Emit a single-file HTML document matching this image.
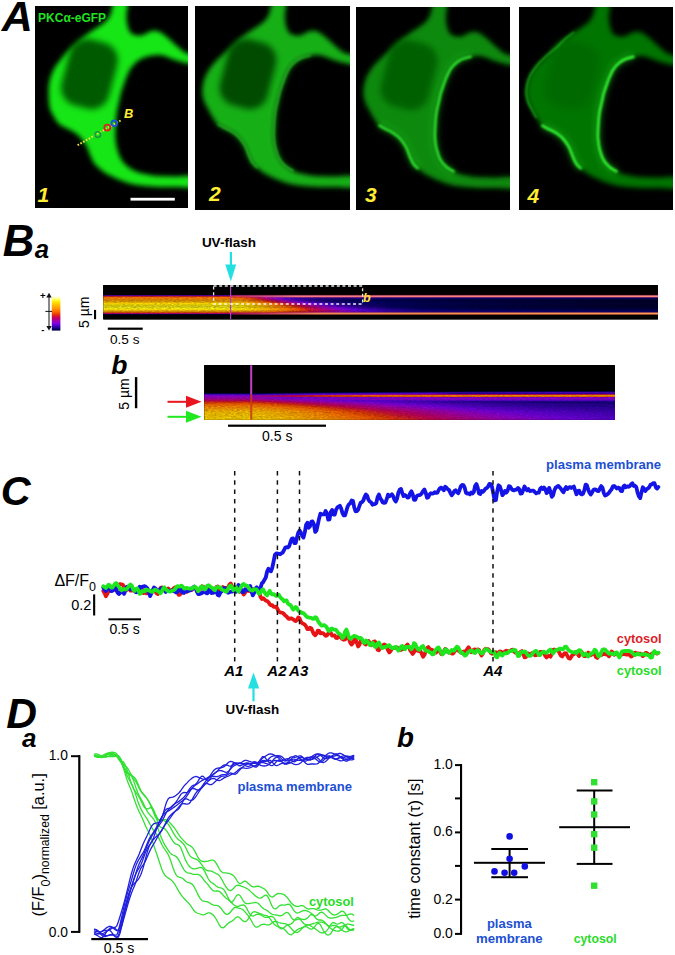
<!DOCTYPE html><html><head><meta charset="utf-8"><style>html,body{margin:0;padding:0;background:#fff;}svg{display:block;font-family:"Liberation Sans",sans-serif;}</style></head><body><svg width="675" height="955" viewBox="0 0 675 955"><rect width="675" height="955" fill="#fff"/><defs>
<filter id="cb" x="-10%" y="-10%" width="120%" height="120%"><feGaussianBlur stdDeviation="2.4"/></filter>
<filter id="nb" x="-20%" y="-20%" width="140%" height="140%"><feGaussianBlur stdDeviation="3"/></filter>
<filter id="mb" x="-10%" y="-10%" width="120%" height="120%"><feGaussianBlur stdDeviation="1.0"/></filter>
<clipPath id="pc0"><rect x="35" y="6" width="153" height="202"/></clipPath>
<clipPath id="pc1"><rect x="195" y="6" width="155" height="204"/></clipPath>
<clipPath id="pc2"><rect x="356" y="7" width="154" height="203"/></clipPath>
<clipPath id="pc3"><rect x="519" y="7" width="154" height="203"/></clipPath>
</defs>
<rect x="35" y="6" width="153" height="202" fill="#000"/>
<g clip-path="url(#pc0)"><g transform="translate(35,6)">
<path d="M79.0,-3.0 C81.5,-4.0 89.9,-4.8 92.0,-3.0 C94.1,-1.2 91.5,4.7 91.5,8.0 C91.5,11.3 91.4,14.0 92.0,17.0 C92.6,20.0 93.7,24.0 95.0,26.0 C96.3,28.0 98.2,28.4 100.0,29.0 C101.8,29.6 104.0,29.9 106.0,29.6 C108.0,29.3 110.2,27.8 112.0,27.0 C113.8,26.2 115.0,25.2 117.0,25.0 C119.0,24.8 121.3,24.3 124.0,25.5 C126.7,26.7 129.8,29.4 133.0,32.0 C136.2,34.6 140.0,38.5 143.0,41.0 C146.0,43.5 147.8,45.5 151.0,47.0 C154.2,48.5 160.2,48.2 162.0,50.0 C163.8,51.8 163.5,56.8 162.0,58.0 C160.5,59.2 156.7,58.2 153.0,57.5 C149.3,56.8 144.2,55.3 140.0,54.0 C135.8,52.7 131.4,50.2 127.6,49.5 C123.8,48.8 120.3,49.1 117.0,49.5 C113.7,49.9 110.6,50.9 108.0,52.0 C105.4,53.1 103.5,54.3 101.5,56.0 C99.5,57.7 97.6,59.7 96.0,62.0 C94.4,64.3 93.2,67.3 92.0,70.0 C90.8,72.7 90.0,75.2 89.0,78.0 C88.0,80.8 86.8,84.0 86.0,87.0 C85.2,90.0 84.7,93.0 84.0,96.0 C83.3,99.0 82.5,102.0 82.0,105.0 C81.5,108.0 81.2,111.0 81.0,114.0 C80.8,117.0 80.6,120.0 80.5,123.0 C80.4,126.0 80.2,128.8 80.5,132.0 C80.8,135.2 81.1,138.5 82.0,142.0 C82.9,145.5 84.3,150.0 86.0,153.0 C87.7,156.0 89.7,158.0 92.0,160.0 C94.3,162.0 97.0,163.7 100.0,165.0 C103.0,166.3 106.2,167.2 110.0,168.0 C113.8,168.8 117.7,169.6 123.0,170.0 C128.3,170.4 135.5,170.4 142.0,170.5 C148.5,170.6 158.7,168.8 162.0,170.5 C165.3,172.2 165.3,179.2 162.0,181.0 C158.7,182.8 148.2,181.0 142.0,181.0 C135.8,181.0 130.3,181.2 125.0,181.0 C119.7,180.8 114.7,180.5 110.0,180.0 C105.3,179.5 101.2,179.0 97.0,178.0 C92.8,177.0 89.2,175.7 85.0,174.0 C80.8,172.3 75.5,170.0 72.0,168.0 C68.5,166.0 66.2,163.8 64.0,162.0 C61.8,160.2 60.4,159.0 59.0,157.0 C57.6,155.0 56.8,152.8 55.5,150.0 C54.2,147.2 53.2,143.2 51.5,140.0 C49.8,136.8 47.2,133.4 45.0,131.0 C42.8,128.6 40.3,127.0 38.0,125.5 C35.7,124.0 33.3,123.2 31.0,122.0 C28.7,120.8 26.0,119.8 24.0,118.0 C22.0,116.2 20.5,113.5 19.0,111.0 C17.5,108.5 15.9,105.8 15.0,103.0 C14.1,100.2 14.0,96.8 13.8,94.0 C13.6,91.2 13.6,88.7 13.6,86.0 C13.6,83.3 13.6,80.7 14.0,78.0 C14.4,75.3 15.1,72.7 16.0,70.0 C16.9,67.3 18.0,64.6 19.5,62.0 C21.0,59.4 22.9,57.2 25.0,54.5 C27.1,51.8 29.4,48.7 32.0,46.0 C34.6,43.3 38.1,40.9 40.8,38.5 C43.5,36.1 45.4,33.8 48.0,31.5 C50.6,29.2 53.7,27.1 56.7,25.0 C59.7,22.9 63.5,20.8 66.0,19.0 C68.5,17.2 70.4,15.8 72.0,14.0 C73.6,12.2 74.7,9.8 75.5,8.0 C76.3,6.2 76.4,4.8 77.0,3.0 C77.6,1.2 76.5,-2.0 79.0,-3.0 Z" fill="#12e612" filter="url(#cb)"/>
<rect x="30" y="34" width="49" height="68" rx="18" transform="rotate(15 54.5 68)" fill="#005a00" filter="url(#nb)"/>
</g></g>
<rect x="195" y="6" width="155" height="204" fill="#000"/>
<g clip-path="url(#pc1)"><g transform="translate(193.5,6)">
<path d="M79.0,-3.0 C81.5,-4.0 89.9,-4.8 92.0,-3.0 C94.1,-1.2 91.5,4.7 91.5,8.0 C91.5,11.3 91.4,14.0 92.0,17.0 C92.6,20.0 93.7,24.0 95.0,26.0 C96.3,28.0 98.2,28.4 100.0,29.0 C101.8,29.6 104.0,29.9 106.0,29.6 C108.0,29.3 110.2,27.8 112.0,27.0 C113.8,26.2 115.0,25.2 117.0,25.0 C119.0,24.8 121.3,24.3 124.0,25.5 C126.7,26.7 129.8,29.4 133.0,32.0 C136.2,34.6 140.0,38.5 143.0,41.0 C146.0,43.5 147.8,45.5 151.0,47.0 C154.2,48.5 160.2,48.2 162.0,50.0 C163.8,51.8 163.5,56.8 162.0,58.0 C160.5,59.2 156.7,58.2 153.0,57.5 C149.3,56.8 144.2,55.3 140.0,54.0 C135.8,52.7 131.4,50.2 127.6,49.5 C123.8,48.8 120.3,49.1 117.0,49.5 C113.7,49.9 110.6,50.9 108.0,52.0 C105.4,53.1 103.5,54.3 101.5,56.0 C99.5,57.7 97.6,59.7 96.0,62.0 C94.4,64.3 93.2,67.3 92.0,70.0 C90.8,72.7 90.0,75.2 89.0,78.0 C88.0,80.8 86.8,84.0 86.0,87.0 C85.2,90.0 84.7,93.0 84.0,96.0 C83.3,99.0 82.5,102.0 82.0,105.0 C81.5,108.0 81.2,111.0 81.0,114.0 C80.8,117.0 80.6,120.0 80.5,123.0 C80.4,126.0 80.2,128.8 80.5,132.0 C80.8,135.2 81.1,138.5 82.0,142.0 C82.9,145.5 84.3,150.0 86.0,153.0 C87.7,156.0 89.7,158.0 92.0,160.0 C94.3,162.0 97.0,163.7 100.0,165.0 C103.0,166.3 106.2,167.2 110.0,168.0 C113.8,168.8 117.7,169.6 123.0,170.0 C128.3,170.4 135.5,170.4 142.0,170.5 C148.5,170.6 158.7,168.8 162.0,170.5 C165.3,172.2 165.3,179.2 162.0,181.0 C158.7,182.8 148.2,181.0 142.0,181.0 C135.8,181.0 130.3,181.2 125.0,181.0 C119.7,180.8 114.7,180.5 110.0,180.0 C105.3,179.5 101.2,179.0 97.0,178.0 C92.8,177.0 89.2,175.7 85.0,174.0 C80.8,172.3 75.5,170.0 72.0,168.0 C68.5,166.0 66.2,163.8 64.0,162.0 C61.8,160.2 60.4,159.0 59.0,157.0 C57.6,155.0 56.8,152.8 55.5,150.0 C54.2,147.2 53.2,143.2 51.5,140.0 C49.8,136.8 47.2,133.4 45.0,131.0 C42.8,128.6 40.3,127.0 38.0,125.5 C35.7,124.0 33.3,123.2 31.0,122.0 C28.7,120.8 26.0,119.8 24.0,118.0 C22.0,116.2 20.6,113.5 19.0,111.0 C17.4,108.5 15.9,105.7 14.5,103.0 C13.1,100.3 11.4,97.7 10.5,95.0 C9.6,92.3 9.0,89.7 8.8,87.0 C8.6,84.3 8.9,81.7 9.3,79.0 C9.8,76.3 10.4,73.7 11.5,71.0 C12.6,68.3 14.2,65.6 16.0,63.0 C17.8,60.4 19.5,58.2 22.0,55.5 C24.5,52.8 27.9,49.8 31.0,47.0 C34.1,44.2 37.7,41.6 40.5,39.0 C43.3,36.4 45.3,33.8 48.0,31.5 C50.7,29.2 53.7,27.1 56.7,25.0 C59.7,22.9 63.5,20.8 66.0,19.0 C68.5,17.2 70.4,15.8 72.0,14.0 C73.6,12.2 74.7,9.8 75.5,8.0 C76.3,6.2 76.4,4.8 77.0,3.0 C77.6,1.2 76.5,-2.0 79.0,-3.0 Z" fill="#14b014" filter="url(#cb)"/>
<rect x="30" y="34" width="49" height="68" rx="18" transform="rotate(15 54.5 68)" fill="#004c00" filter="url(#nb)"/>
<g fill="none" stroke="#30e030" stroke-width="5.2" opacity="0.18" filter="url(#nb)">
<path d="M117.0,49.5 C115.5,49.9 110.6,50.9 108.0,52.0 C105.4,53.1 103.5,54.3 101.5,56.0 C99.5,57.7 97.6,59.7 96.0,62.0 C94.4,64.3 93.2,67.3 92.0,70.0 C90.8,72.7 90.0,75.2 89.0,78.0 C88.0,80.8 86.8,84.0 86.0,87.0 C85.2,90.0 84.7,93.0 84.0,96.0 C83.3,99.0 82.5,102.0 82.0,105.0 C81.5,108.0 81.2,111.0 81.0,114.0 C80.8,117.0 80.6,120.0 80.5,123.0 C80.4,126.0 80.2,128.8 80.5,132.0 C80.8,135.2 81.1,138.5 82.0,142.0 C82.9,145.5 84.3,150.0 86.0,153.0 C87.7,156.0 89.7,158.0 92.0,160.0 C94.3,162.0 98.7,164.2 100.0,165.0"/><path d="M64.0,162.0 C63.2,161.2 60.4,159.0 59.0,157.0 C57.6,155.0 56.8,152.8 55.5,150.0 C54.2,147.2 53.2,143.2 51.5,140.0 C49.8,136.8 47.2,133.4 45.0,131.0 C42.8,128.6 40.3,127.0 38.0,125.5 C35.7,124.0 33.3,123.2 31.0,122.0 C28.7,120.8 25.2,118.7 24.0,118.0"/>
</g>
<g fill="none" stroke="#30e030" stroke-width="2.0" opacity="0.6" filter="url(#mb)">
<path d="M117.0,49.5 C115.5,49.9 110.6,50.9 108.0,52.0 C105.4,53.1 103.5,54.3 101.5,56.0 C99.5,57.7 97.6,59.7 96.0,62.0 C94.4,64.3 93.2,67.3 92.0,70.0 C90.8,72.7 90.0,75.2 89.0,78.0 C88.0,80.8 86.8,84.0 86.0,87.0 C85.2,90.0 84.7,93.0 84.0,96.0 C83.3,99.0 82.5,102.0 82.0,105.0 C81.5,108.0 81.2,111.0 81.0,114.0 C80.8,117.0 80.6,120.0 80.5,123.0 C80.4,126.0 80.2,128.8 80.5,132.0 C80.8,135.2 81.1,138.5 82.0,142.0 C82.9,145.5 84.3,150.0 86.0,153.0 C87.7,156.0 89.7,158.0 92.0,160.0 C94.3,162.0 98.7,164.2 100.0,165.0"/><path d="M64.0,162.0 C63.2,161.2 60.4,159.0 59.0,157.0 C57.6,155.0 56.8,152.8 55.5,150.0 C54.2,147.2 53.2,143.2 51.5,140.0 C49.8,136.8 47.2,133.4 45.0,131.0 C42.8,128.6 40.3,127.0 38.0,125.5 C35.7,124.0 33.3,123.2 31.0,122.0 C28.7,120.8 25.2,118.7 24.0,118.0"/>
</g>
</g></g>
<rect x="356" y="7" width="154" height="203" fill="#000"/>
<g clip-path="url(#pc2)"><g transform="translate(354.5,7)">
<path d="M79.0,-3.0 C81.5,-4.0 89.9,-4.8 92.0,-3.0 C94.1,-1.2 91.5,4.7 91.5,8.0 C91.5,11.3 91.4,14.0 92.0,17.0 C92.6,20.0 93.7,24.0 95.0,26.0 C96.3,28.0 98.2,28.4 100.0,29.0 C101.8,29.6 104.0,29.9 106.0,29.6 C108.0,29.3 110.2,27.8 112.0,27.0 C113.8,26.2 115.0,25.2 117.0,25.0 C119.0,24.8 121.3,24.3 124.0,25.5 C126.7,26.7 129.8,29.4 133.0,32.0 C136.2,34.6 140.0,38.5 143.0,41.0 C146.0,43.5 147.8,45.5 151.0,47.0 C154.2,48.5 160.2,48.2 162.0,50.0 C163.8,51.8 163.5,56.8 162.0,58.0 C160.5,59.2 156.7,58.2 153.0,57.5 C149.3,56.8 144.2,55.3 140.0,54.0 C135.8,52.7 131.4,50.2 127.6,49.5 C123.8,48.8 120.3,49.1 117.0,49.5 C113.7,49.9 110.6,50.9 108.0,52.0 C105.4,53.1 103.5,54.3 101.5,56.0 C99.5,57.7 97.6,59.7 96.0,62.0 C94.4,64.3 93.2,67.3 92.0,70.0 C90.8,72.7 90.0,75.2 89.0,78.0 C88.0,80.8 86.8,84.0 86.0,87.0 C85.2,90.0 84.7,93.0 84.0,96.0 C83.3,99.0 82.5,102.0 82.0,105.0 C81.5,108.0 81.2,111.0 81.0,114.0 C80.8,117.0 80.6,120.0 80.5,123.0 C80.4,126.0 80.2,128.8 80.5,132.0 C80.8,135.2 81.1,138.5 82.0,142.0 C82.9,145.5 84.3,150.0 86.0,153.0 C87.7,156.0 89.7,158.0 92.0,160.0 C94.3,162.0 97.0,163.7 100.0,165.0 C103.0,166.3 106.2,167.2 110.0,168.0 C113.8,168.8 117.7,169.6 123.0,170.0 C128.3,170.4 135.5,170.4 142.0,170.5 C148.5,170.6 158.7,168.8 162.0,170.5 C165.3,172.2 165.3,179.2 162.0,181.0 C158.7,182.8 148.2,181.0 142.0,181.0 C135.8,181.0 130.3,181.2 125.0,181.0 C119.7,180.8 114.7,180.5 110.0,180.0 C105.3,179.5 101.2,179.0 97.0,178.0 C92.8,177.0 89.2,175.7 85.0,174.0 C80.8,172.3 75.5,170.0 72.0,168.0 C68.5,166.0 66.2,163.8 64.0,162.0 C61.8,160.2 60.4,159.0 59.0,157.0 C57.6,155.0 56.8,152.8 55.5,150.0 C54.2,147.2 53.2,143.2 51.5,140.0 C49.8,136.8 47.2,133.4 45.0,131.0 C42.8,128.6 40.3,127.0 38.0,125.5 C35.7,124.0 33.3,123.2 31.0,122.0 C28.7,120.8 26.0,119.8 24.0,118.0 C22.0,116.2 20.6,113.5 19.0,111.0 C17.4,108.5 15.9,105.7 14.5,103.0 C13.1,100.3 11.4,97.7 10.5,95.0 C9.6,92.3 9.0,89.7 8.8,87.0 C8.6,84.3 8.9,81.7 9.3,79.0 C9.8,76.3 10.4,73.7 11.5,71.0 C12.6,68.3 14.2,65.6 16.0,63.0 C17.8,60.4 19.5,58.2 22.0,55.5 C24.5,52.8 27.9,49.8 31.0,47.0 C34.1,44.2 37.7,41.6 40.5,39.0 C43.3,36.4 45.3,33.8 48.0,31.5 C50.7,29.2 53.7,27.1 56.7,25.0 C59.7,22.9 63.5,20.8 66.0,19.0 C68.5,17.2 70.4,15.8 72.0,14.0 C73.6,12.2 74.7,9.8 75.5,8.0 C76.3,6.2 76.4,4.8 77.0,3.0 C77.6,1.2 76.5,-2.0 79.0,-3.0 Z" fill="#0a8a0a" filter="url(#cb)"/>
<rect x="30" y="34" width="49" height="68" rx="18" transform="rotate(15 54.5 68)" fill="#026002" filter="url(#nb)"/>
<g fill="none" stroke="#30f030" stroke-width="6.2" opacity="0.28" filter="url(#nb)">
<path d="M117.0,49.5 C115.5,49.9 110.6,50.9 108.0,52.0 C105.4,53.1 103.5,54.3 101.5,56.0 C99.5,57.7 97.6,59.7 96.0,62.0 C94.4,64.3 93.2,67.3 92.0,70.0 C90.8,72.7 90.0,75.2 89.0,78.0 C88.0,80.8 86.8,84.0 86.0,87.0 C85.2,90.0 84.7,93.0 84.0,96.0 C83.3,99.0 82.5,102.0 82.0,105.0 C81.5,108.0 81.2,111.0 81.0,114.0 C80.8,117.0 80.6,120.0 80.5,123.0 C80.4,126.0 80.2,128.8 80.5,132.0 C80.8,135.2 81.1,138.5 82.0,142.0 C82.9,145.5 84.3,150.0 86.0,153.0 C87.7,156.0 89.7,158.0 92.0,160.0 C94.3,162.0 98.7,164.2 100.0,165.0"/><path d="M64.0,162.0 C63.2,161.2 60.4,159.0 59.0,157.0 C57.6,155.0 56.8,152.8 55.5,150.0 C54.2,147.2 53.2,143.2 51.5,140.0 C49.8,136.8 47.2,133.4 45.0,131.0 C42.8,128.6 40.3,127.0 38.0,125.5 C35.7,124.0 33.3,123.2 31.0,122.0 C28.7,120.8 25.2,118.7 24.0,118.0"/>
</g>
<g fill="none" stroke="#30f030" stroke-width="2.4" opacity="0.95" filter="url(#mb)">
<path d="M117.0,49.5 C115.5,49.9 110.6,50.9 108.0,52.0 C105.4,53.1 103.5,54.3 101.5,56.0 C99.5,57.7 97.6,59.7 96.0,62.0 C94.4,64.3 93.2,67.3 92.0,70.0 C90.8,72.7 90.0,75.2 89.0,78.0 C88.0,80.8 86.8,84.0 86.0,87.0 C85.2,90.0 84.7,93.0 84.0,96.0 C83.3,99.0 82.5,102.0 82.0,105.0 C81.5,108.0 81.2,111.0 81.0,114.0 C80.8,117.0 80.6,120.0 80.5,123.0 C80.4,126.0 80.2,128.8 80.5,132.0 C80.8,135.2 81.1,138.5 82.0,142.0 C82.9,145.5 84.3,150.0 86.0,153.0 C87.7,156.0 89.7,158.0 92.0,160.0 C94.3,162.0 98.7,164.2 100.0,165.0"/><path d="M64.0,162.0 C63.2,161.2 60.4,159.0 59.0,157.0 C57.6,155.0 56.8,152.8 55.5,150.0 C54.2,147.2 53.2,143.2 51.5,140.0 C49.8,136.8 47.2,133.4 45.0,131.0 C42.8,128.6 40.3,127.0 38.0,125.5 C35.7,124.0 33.3,123.2 31.0,122.0 C28.7,120.8 25.2,118.7 24.0,118.0"/>
</g>
</g></g>
<rect x="519" y="7" width="154" height="203" fill="#000"/>
<g clip-path="url(#pc3)"><g transform="translate(517.5,7)">
<path d="M79.0,-3.0 C81.5,-4.0 89.9,-4.8 92.0,-3.0 C94.1,-1.2 91.5,4.7 91.5,8.0 C91.5,11.3 91.4,14.0 92.0,17.0 C92.6,20.0 93.7,24.0 95.0,26.0 C96.3,28.0 98.2,28.4 100.0,29.0 C101.8,29.6 104.0,29.9 106.0,29.6 C108.0,29.3 110.2,27.8 112.0,27.0 C113.8,26.2 115.0,25.2 117.0,25.0 C119.0,24.8 121.3,24.3 124.0,25.5 C126.7,26.7 129.8,29.4 133.0,32.0 C136.2,34.6 140.0,38.5 143.0,41.0 C146.0,43.5 147.8,45.5 151.0,47.0 C154.2,48.5 160.2,48.2 162.0,50.0 C163.8,51.8 163.5,56.8 162.0,58.0 C160.5,59.2 156.7,58.2 153.0,57.5 C149.3,56.8 144.2,55.3 140.0,54.0 C135.8,52.7 131.4,50.2 127.6,49.5 C123.8,48.8 120.3,49.1 117.0,49.5 C113.7,49.9 110.6,50.9 108.0,52.0 C105.4,53.1 103.5,54.3 101.5,56.0 C99.5,57.7 97.6,59.7 96.0,62.0 C94.4,64.3 93.2,67.3 92.0,70.0 C90.8,72.7 90.0,75.2 89.0,78.0 C88.0,80.8 86.8,84.0 86.0,87.0 C85.2,90.0 84.7,93.0 84.0,96.0 C83.3,99.0 82.5,102.0 82.0,105.0 C81.5,108.0 81.2,111.0 81.0,114.0 C80.8,117.0 80.6,120.0 80.5,123.0 C80.4,126.0 80.2,128.8 80.5,132.0 C80.8,135.2 81.1,138.5 82.0,142.0 C82.9,145.5 84.3,150.0 86.0,153.0 C87.7,156.0 89.7,158.0 92.0,160.0 C94.3,162.0 97.0,163.7 100.0,165.0 C103.0,166.3 106.2,167.2 110.0,168.0 C113.8,168.8 117.7,169.6 123.0,170.0 C128.3,170.4 135.5,170.4 142.0,170.5 C148.5,170.6 158.7,168.8 162.0,170.5 C165.3,172.2 165.3,179.2 162.0,181.0 C158.7,182.8 148.2,181.0 142.0,181.0 C135.8,181.0 130.3,181.2 125.0,181.0 C119.7,180.8 114.7,180.5 110.0,180.0 C105.3,179.5 101.2,179.0 97.0,178.0 C92.8,177.0 89.2,175.7 85.0,174.0 C80.8,172.3 75.5,170.0 72.0,168.0 C68.5,166.0 66.2,163.8 64.0,162.0 C61.8,160.2 60.4,159.0 59.0,157.0 C57.6,155.0 56.8,152.8 55.5,150.0 C54.2,147.2 53.2,143.2 51.5,140.0 C49.8,136.8 47.2,133.4 45.0,131.0 C42.8,128.6 40.3,127.0 38.0,125.5 C35.7,124.0 33.3,123.2 31.0,122.0 C28.7,120.8 26.0,119.8 24.0,118.0 C22.0,116.2 20.6,113.5 19.0,111.0 C17.4,108.5 15.9,105.7 14.5,103.0 C13.1,100.3 11.4,97.7 10.5,95.0 C9.6,92.3 9.0,89.7 8.8,87.0 C8.6,84.3 8.9,81.7 9.3,79.0 C9.8,76.3 10.4,73.7 11.5,71.0 C12.6,68.3 14.2,65.6 16.0,63.0 C17.8,60.4 19.5,58.2 22.0,55.5 C24.5,52.8 27.9,49.8 31.0,47.0 C34.1,44.2 37.7,41.6 40.5,39.0 C43.3,36.4 45.3,33.8 48.0,31.5 C50.7,29.2 53.7,27.1 56.7,25.0 C59.7,22.9 63.5,20.8 66.0,19.0 C68.5,17.2 70.4,15.8 72.0,14.0 C73.6,12.2 74.7,9.8 75.5,8.0 C76.3,6.2 76.4,4.8 77.0,3.0 C77.6,1.2 76.5,-2.0 79.0,-3.0 Z" fill="#067406" filter="url(#cb)"/>
<rect x="30" y="34" width="49" height="68" rx="18" transform="rotate(15 54.5 68)" fill="#066a06" filter="url(#nb)"/>
<g fill="none" stroke="#30f830" stroke-width="6.8" opacity="0.30" filter="url(#nb)">
<path d="M117.0,49.5 C115.5,49.9 110.6,50.9 108.0,52.0 C105.4,53.1 103.5,54.3 101.5,56.0 C99.5,57.7 97.6,59.7 96.0,62.0 C94.4,64.3 93.2,67.3 92.0,70.0 C90.8,72.7 90.0,75.2 89.0,78.0 C88.0,80.8 86.8,84.0 86.0,87.0 C85.2,90.0 84.7,93.0 84.0,96.0 C83.3,99.0 82.5,102.0 82.0,105.0 C81.5,108.0 81.2,111.0 81.0,114.0 C80.8,117.0 80.6,120.0 80.5,123.0 C80.4,126.0 80.2,128.8 80.5,132.0 C80.8,135.2 81.1,138.5 82.0,142.0 C82.9,145.5 84.3,150.0 86.0,153.0 C87.7,156.0 89.7,158.0 92.0,160.0 C94.3,162.0 98.7,164.2 100.0,165.0"/><path d="M64.0,162.0 C63.2,161.2 60.4,159.0 59.0,157.0 C57.6,155.0 56.8,152.8 55.5,150.0 C54.2,147.2 53.2,143.2 51.5,140.0 C49.8,136.8 47.2,133.4 45.0,131.0 C42.8,128.6 40.3,127.0 38.0,125.5 C35.7,124.0 33.3,123.2 31.0,122.0 C28.7,120.8 25.2,118.7 24.0,118.0"/>
</g>
<g fill="none" stroke="#30f830" stroke-width="2.6" opacity="1.0" filter="url(#mb)">
<path d="M117.0,49.5 C115.5,49.9 110.6,50.9 108.0,52.0 C105.4,53.1 103.5,54.3 101.5,56.0 C99.5,57.7 97.6,59.7 96.0,62.0 C94.4,64.3 93.2,67.3 92.0,70.0 C90.8,72.7 90.0,75.2 89.0,78.0 C88.0,80.8 86.8,84.0 86.0,87.0 C85.2,90.0 84.7,93.0 84.0,96.0 C83.3,99.0 82.5,102.0 82.0,105.0 C81.5,108.0 81.2,111.0 81.0,114.0 C80.8,117.0 80.6,120.0 80.5,123.0 C80.4,126.0 80.2,128.8 80.5,132.0 C80.8,135.2 81.1,138.5 82.0,142.0 C82.9,145.5 84.3,150.0 86.0,153.0 C87.7,156.0 89.7,158.0 92.0,160.0 C94.3,162.0 98.7,164.2 100.0,165.0"/><path d="M64.0,162.0 C63.2,161.2 60.4,159.0 59.0,157.0 C57.6,155.0 56.8,152.8 55.5,150.0 C54.2,147.2 53.2,143.2 51.5,140.0 C49.8,136.8 47.2,133.4 45.0,131.0 C42.8,128.6 40.3,127.0 38.0,125.5 C35.7,124.0 33.3,123.2 31.0,122.0 C28.7,120.8 25.2,118.7 24.0,118.0"/>
<path d="M19.0,111.0 C18.2,109.7 15.9,105.7 14.5,103.0 C13.1,100.3 11.4,97.7 10.5,95.0 C9.6,92.3 9.0,89.7 8.8,87.0 C8.6,84.3 8.9,81.7 9.3,79.0 C9.8,76.3 10.4,73.7 11.5,71.0 C12.6,68.3 14.2,65.6 16.0,63.0 C17.8,60.4 19.5,58.2 22.0,55.5 C24.5,52.8 27.9,49.8 31.0,47.0 C34.1,44.2 37.7,41.6 40.5,39.0 C43.3,36.4 45.3,33.8 48.0,31.5 C50.7,29.2 55.2,26.1 56.7,25.0" stroke-width="1.4" opacity="0.7"/>
</g>
</g></g>
<text x="38.12" y="21.50" font-size="12.5" font-weight="bold" fill="#22e022" textLength="68" lengthAdjust="spacingAndGlyphs">PKC&#945;-eGFP</text>
<text x="37.58" y="201.50" font-size="21" font-weight="bold" font-style="italic" fill="#ffee33" >1</text>
<text x="209.11" y="200.80" font-size="21" font-weight="bold" font-style="italic" fill="#ffee33" >2</text>
<text x="364.99" y="202.30" font-size="21" font-weight="bold" font-style="italic" fill="#ffee33" >3</text>
<text x="527.42" y="203.20" font-size="21" font-weight="bold" font-style="italic" fill="#ffee33" >4</text>
<rect x="130.5" y="197.8" width="44.3" height="2.8" fill="#fff"/>
<line x1="77.6" y1="145.2" x2="121.5" y2="120" stroke="#f0e040" stroke-width="2" stroke-dasharray="1.6 1.6"/>
<circle cx="97.8" cy="134.6" r="2.8" fill="none" stroke="#1a9a3a" stroke-width="1.6"/>
<circle cx="107.3" cy="127.6" r="3" fill="none" stroke="#e02020" stroke-width="1.8"/>
<circle cx="114.2" cy="123.2" r="2.8" fill="none" stroke="#2050e0" stroke-width="1.8"/>
<text x="124.04" y="117.60" font-size="12.9" font-weight="bold" font-style="italic" fill="#ffee33" >B</text>
<text x="1.63" y="31.20" font-size="43" font-weight="bold" font-style="italic" >A</text><defs><linearGradient id="ga12" x1="0" x2="1" y1="0" y2="0"><stop offset="0.0000" stop-color="#8000de"/><stop offset="0.2284" stop-color="#8000de"/><stop offset="0.2306" stop-color="#8000df"/><stop offset="0.2468" stop-color="#7600e2"/><stop offset="0.2630" stop-color="#5f00d8"/><stop offset="0.2793" stop-color="#4100b7"/><stop offset="0.2955" stop-color="#270097"/><stop offset="0.3117" stop-color="#15007c"/><stop offset="0.3279" stop-color="#0a006d"/><stop offset="0.3441" stop-color="#040065"/><stop offset="0.3604" stop-color="#010061"/><stop offset="0.3766" stop-color="#01005e"/><stop offset="0.3928" stop-color="#01005c"/><stop offset="0.4090" stop-color="#01005a"/><stop offset="0.4253" stop-color="#010059"/><stop offset="0.4415" stop-color="#010057"/><stop offset="0.4577" stop-color="#010056"/><stop offset="0.4739" stop-color="#010055"/><stop offset="0.5172" stop-color="#010052"/><stop offset="0.5605" stop-color="#010050"/><stop offset="0.6037" stop-color="#00004e"/><stop offset="0.6470" stop-color="#00004c"/><stop offset="0.6903" stop-color="#00004b"/><stop offset="0.7335" stop-color="#00004a"/><stop offset="0.7768" stop-color="#000049"/><stop offset="0.8201" stop-color="#000048"/><stop offset="0.8633" stop-color="#000047"/><stop offset="0.9066" stop-color="#000047"/><stop offset="0.9499" stop-color="#000046"/><stop offset="1.0000" stop-color="#000046"/></linearGradient>
<linearGradient id="ga13" x1="0" x2="1" y1="0" y2="0"><stop offset="0.0000" stop-color="#df2f13"/><stop offset="0.2306" stop-color="#df2f13"/><stop offset="0.2468" stop-color="#d61d2c"/><stop offset="0.2630" stop-color="#c00065"/><stop offset="0.2793" stop-color="#a500ac"/><stop offset="0.2955" stop-color="#7d00e1"/><stop offset="0.3117" stop-color="#5800d1"/><stop offset="0.3279" stop-color="#4200b8"/><stop offset="0.3441" stop-color="#3600ab"/><stop offset="0.3604" stop-color="#3000a3"/><stop offset="0.3766" stop-color="#2c009e"/><stop offset="0.3928" stop-color="#2a009a"/><stop offset="0.4090" stop-color="#270097"/><stop offset="0.4253" stop-color="#250094"/><stop offset="0.4415" stop-color="#230091"/><stop offset="0.4577" stop-color="#22008f"/><stop offset="0.4739" stop-color="#20008c"/><stop offset="0.5172" stop-color="#1c0086"/><stop offset="0.5605" stop-color="#190082"/><stop offset="0.6037" stop-color="#16007e"/><stop offset="0.6470" stop-color="#14007b"/><stop offset="0.6903" stop-color="#120078"/><stop offset="0.7335" stop-color="#100076"/><stop offset="0.7768" stop-color="#0f0074"/><stop offset="0.8201" stop-color="#0e0072"/><stop offset="0.8633" stop-color="#0d0071"/><stop offset="0.9066" stop-color="#0c0070"/><stop offset="0.9499" stop-color="#0c006f"/><stop offset="0.9931" stop-color="#0b006f"/><stop offset="1.0000" stop-color="#0b006e"/></linearGradient>
<linearGradient id="ga14" x1="0" x2="1" y1="0" y2="0"><stop offset="0.0000" stop-color="#fe7000"/><stop offset="0.2306" stop-color="#fe7000"/><stop offset="0.2468" stop-color="#f96000"/><stop offset="0.2630" stop-color="#df2e13"/><stop offset="0.2793" stop-color="#bf0067"/><stop offset="0.2955" stop-color="#a100b6"/><stop offset="0.3117" stop-color="#7700e2"/><stop offset="0.3279" stop-color="#5700cf"/><stop offset="0.3441" stop-color="#4400ba"/><stop offset="0.3604" stop-color="#3a00af"/><stop offset="0.3766" stop-color="#3400a8"/><stop offset="0.3928" stop-color="#3000a4"/><stop offset="0.4090" stop-color="#2d00a0"/><stop offset="0.4253" stop-color="#2b009c"/><stop offset="0.4415" stop-color="#280098"/><stop offset="0.4577" stop-color="#260095"/><stop offset="0.4739" stop-color="#240092"/><stop offset="0.5172" stop-color="#1f008b"/><stop offset="0.5605" stop-color="#1b0086"/><stop offset="0.6037" stop-color="#180081"/><stop offset="0.6470" stop-color="#15007d"/><stop offset="0.6903" stop-color="#13007a"/><stop offset="0.7335" stop-color="#110077"/><stop offset="0.7768" stop-color="#100075"/><stop offset="0.8201" stop-color="#0e0073"/><stop offset="0.8633" stop-color="#0d0071"/><stop offset="0.9066" stop-color="#0c0070"/><stop offset="0.9499" stop-color="#0c006f"/><stop offset="0.9931" stop-color="#0b006e"/><stop offset="1.0000" stop-color="#0b006e"/></linearGradient>
<linearGradient id="ga15" x1="0" x2="1" y1="0" y2="0"><stop offset="0.0000" stop-color="#ff8100"/><stop offset="0.2306" stop-color="#ff8100"/><stop offset="0.2468" stop-color="#ff7400"/><stop offset="0.2630" stop-color="#ee4b01"/><stop offset="0.2793" stop-color="#cf0e41"/><stop offset="0.2955" stop-color="#ae0094"/><stop offset="0.3117" stop-color="#8a00d8"/><stop offset="0.3279" stop-color="#6000da"/><stop offset="0.3441" stop-color="#4400ba"/><stop offset="0.3604" stop-color="#3400a8"/><stop offset="0.3766" stop-color="#2a009b"/><stop offset="0.3928" stop-color="#250093"/><stop offset="0.4090" stop-color="#21008e"/><stop offset="0.4253" stop-color="#1e008a"/><stop offset="0.4415" stop-color="#1c0086"/><stop offset="0.4577" stop-color="#190083"/><stop offset="0.4739" stop-color="#17007f"/><stop offset="0.5172" stop-color="#120078"/><stop offset="0.5605" stop-color="#0e0072"/><stop offset="0.6037" stop-color="#0a006d"/><stop offset="0.6470" stop-color="#080069"/><stop offset="0.6903" stop-color="#050066"/><stop offset="0.7335" stop-color="#030063"/><stop offset="0.7768" stop-color="#010061"/><stop offset="0.8201" stop-color="#01005f"/><stop offset="0.8633" stop-color="#01005d"/><stop offset="0.9066" stop-color="#01005c"/><stop offset="0.9499" stop-color="#01005a"/><stop offset="0.9931" stop-color="#010059"/><stop offset="1.0000" stop-color="#010059"/></linearGradient>
<linearGradient id="ga16" x1="0" x2="1" y1="0" y2="0"><stop offset="0.0000" stop-color="#ff9000"/><stop offset="0.2306" stop-color="#ff9000"/><stop offset="0.2468" stop-color="#ff8500"/><stop offset="0.2630" stop-color="#fc6500"/><stop offset="0.2793" stop-color="#dc291b"/><stop offset="0.2955" stop-color="#bc0070"/><stop offset="0.3117" stop-color="#9d00bf"/><stop offset="0.3279" stop-color="#6f00e0"/><stop offset="0.3441" stop-color="#4a00c1"/><stop offset="0.3604" stop-color="#3300a7"/><stop offset="0.3766" stop-color="#250093"/><stop offset="0.3928" stop-color="#1c0087"/><stop offset="0.4090" stop-color="#17007f"/><stop offset="0.4253" stop-color="#13007a"/><stop offset="0.4415" stop-color="#100075"/><stop offset="0.4577" stop-color="#0e0072"/><stop offset="0.4739" stop-color="#0b006f"/><stop offset="0.5172" stop-color="#060067"/><stop offset="0.5605" stop-color="#010061"/><stop offset="0.6037" stop-color="#01005b"/><stop offset="0.6470" stop-color="#010057"/><stop offset="0.6903" stop-color="#010053"/><stop offset="0.7335" stop-color="#010050"/><stop offset="0.7768" stop-color="#00004e"/><stop offset="0.8201" stop-color="#00004b"/><stop offset="0.8633" stop-color="#00004a"/><stop offset="0.9066" stop-color="#000048"/><stop offset="0.9499" stop-color="#000047"/><stop offset="0.9931" stop-color="#000046"/><stop offset="1.0000" stop-color="#000046"/></linearGradient>
<linearGradient id="ga17" x1="0" x2="1" y1="0" y2="0"><stop offset="0.0000" stop-color="#ff9b00"/><stop offset="0.2306" stop-color="#ff9b00"/><stop offset="0.2468" stop-color="#ff9200"/><stop offset="0.2630" stop-color="#ff7700"/><stop offset="0.2793" stop-color="#eb4402"/><stop offset="0.2955" stop-color="#ca094b"/><stop offset="0.3117" stop-color="#ab009c"/><stop offset="0.3279" stop-color="#8600db"/><stop offset="0.3441" stop-color="#5a00d3"/><stop offset="0.3604" stop-color="#3b00b0"/><stop offset="0.3766" stop-color="#270096"/><stop offset="0.3928" stop-color="#1a0084"/><stop offset="0.4090" stop-color="#120078"/><stop offset="0.4253" stop-color="#0d0071"/><stop offset="0.4415" stop-color="#09006c"/><stop offset="0.4577" stop-color="#060068"/><stop offset="0.4739" stop-color="#040064"/><stop offset="0.5172" stop-color="#01005c"/><stop offset="0.5605" stop-color="#010055"/><stop offset="0.6037" stop-color="#010050"/><stop offset="0.6470" stop-color="#00004b"/><stop offset="0.6903" stop-color="#000047"/><stop offset="0.7335" stop-color="#000044"/><stop offset="0.7768" stop-color="#000041"/><stop offset="0.8201" stop-color="#00003f"/><stop offset="0.8633" stop-color="#00003d"/><stop offset="0.9066" stop-color="#00003b"/><stop offset="0.9499" stop-color="#000038"/><stop offset="0.9931" stop-color="#000037"/><stop offset="1.0000" stop-color="#000036"/></linearGradient>
<linearGradient id="ga18" x1="0" x2="1" y1="0" y2="0"><stop offset="0.0000" stop-color="#ffa700"/><stop offset="0.2306" stop-color="#ffa700"/><stop offset="0.2468" stop-color="#ff9e00"/><stop offset="0.2630" stop-color="#ff8700"/><stop offset="0.2793" stop-color="#f96000"/><stop offset="0.2955" stop-color="#d92324"/><stop offset="0.3117" stop-color="#ba0075"/><stop offset="0.3279" stop-color="#9d00bf"/><stop offset="0.3441" stop-color="#7100e0"/><stop offset="0.3604" stop-color="#4b00c2"/><stop offset="0.3766" stop-color="#3100a5"/><stop offset="0.3928" stop-color="#1f008b"/><stop offset="0.4090" stop-color="#14007b"/><stop offset="0.4253" stop-color="#0d0071"/><stop offset="0.4415" stop-color="#08006a"/><stop offset="0.4577" stop-color="#040065"/><stop offset="0.4739" stop-color="#010060"/><stop offset="0.5172" stop-color="#010058"/><stop offset="0.5605" stop-color="#010051"/><stop offset="0.6037" stop-color="#00004b"/><stop offset="0.6470" stop-color="#000046"/><stop offset="0.6903" stop-color="#000042"/><stop offset="0.7335" stop-color="#00003f"/><stop offset="0.7768" stop-color="#00003b"/><stop offset="0.8201" stop-color="#000037"/><stop offset="0.8633" stop-color="#000034"/><stop offset="0.9066" stop-color="#000031"/><stop offset="0.9499" stop-color="#00002f"/><stop offset="0.9931" stop-color="#00002d"/><stop offset="1.0000" stop-color="#00002c"/></linearGradient>
<linearGradient id="ga19" x1="0" x2="1" y1="0" y2="0"><stop offset="0.0000" stop-color="#ffb500"/><stop offset="0.2306" stop-color="#ffb500"/><stop offset="0.2468" stop-color="#ffad00"/><stop offset="0.2630" stop-color="#ff9700"/><stop offset="0.2793" stop-color="#ff7600"/><stop offset="0.2955" stop-color="#ea4203"/><stop offset="0.3117" stop-color="#cb094b"/><stop offset="0.3279" stop-color="#ad0096"/><stop offset="0.3441" stop-color="#8d00d5"/><stop offset="0.3604" stop-color="#6300dc"/><stop offset="0.3766" stop-color="#4200b8"/><stop offset="0.3928" stop-color="#2b009c"/><stop offset="0.4090" stop-color="#1c0086"/><stop offset="0.4253" stop-color="#110077"/><stop offset="0.4415" stop-color="#0b006e"/><stop offset="0.4577" stop-color="#060067"/><stop offset="0.4739" stop-color="#020062"/><stop offset="0.5172" stop-color="#010058"/><stop offset="0.5605" stop-color="#010050"/><stop offset="0.6037" stop-color="#00004a"/><stop offset="0.6470" stop-color="#000045"/><stop offset="0.6903" stop-color="#000041"/><stop offset="0.7335" stop-color="#00003e"/><stop offset="0.7768" stop-color="#000039"/><stop offset="0.8201" stop-color="#000035"/><stop offset="0.8633" stop-color="#000031"/><stop offset="0.9066" stop-color="#00002e"/><stop offset="0.9499" stop-color="#00002c"/><stop offset="0.9931" stop-color="#00002a"/><stop offset="1.0000" stop-color="#00002a"/></linearGradient>
<linearGradient id="ga20" x1="0" x2="1" y1="0" y2="0"><stop offset="0.0000" stop-color="#ffc700"/><stop offset="0.2306" stop-color="#ffc700"/><stop offset="0.2468" stop-color="#ffbf00"/><stop offset="0.2630" stop-color="#ffaa00"/><stop offset="0.2793" stop-color="#ff8d00"/><stop offset="0.2955" stop-color="#fc6500"/><stop offset="0.3117" stop-color="#dc281c"/><stop offset="0.3279" stop-color="#be0069"/><stop offset="0.3441" stop-color="#a400af"/><stop offset="0.3604" stop-color="#7f00e0"/><stop offset="0.3766" stop-color="#5900d2"/><stop offset="0.3928" stop-color="#3c00b1"/><stop offset="0.4090" stop-color="#280098"/><stop offset="0.4253" stop-color="#1a0084"/><stop offset="0.4415" stop-color="#110076"/><stop offset="0.4577" stop-color="#0a006d"/><stop offset="0.4739" stop-color="#050066"/><stop offset="0.5172" stop-color="#01005b"/><stop offset="0.5605" stop-color="#010053"/><stop offset="0.6037" stop-color="#00004c"/><stop offset="0.6470" stop-color="#000047"/><stop offset="0.6903" stop-color="#000042"/><stop offset="0.7335" stop-color="#00003f"/><stop offset="0.7768" stop-color="#00003b"/><stop offset="0.8201" stop-color="#000036"/><stop offset="0.8633" stop-color="#000033"/><stop offset="0.9066" stop-color="#00002f"/><stop offset="0.9499" stop-color="#00002d"/><stop offset="0.9931" stop-color="#00002b"/><stop offset="1.0000" stop-color="#00002a"/></linearGradient>
<linearGradient id="ga21" x1="0" x2="1" y1="0" y2="0"><stop offset="0.0000" stop-color="#ffd800"/><stop offset="0.2306" stop-color="#ffd800"/><stop offset="0.2468" stop-color="#ffd100"/><stop offset="0.2630" stop-color="#ffbe00"/><stop offset="0.2793" stop-color="#ffa100"/><stop offset="0.2955" stop-color="#ff7e00"/><stop offset="0.3117" stop-color="#ee4b01"/><stop offset="0.3279" stop-color="#d0113c"/><stop offset="0.3441" stop-color="#b40084"/><stop offset="0.3604" stop-color="#9a00c4"/><stop offset="0.3766" stop-color="#7300e1"/><stop offset="0.3928" stop-color="#5100c9"/><stop offset="0.4090" stop-color="#3800ac"/><stop offset="0.4253" stop-color="#260094"/><stop offset="0.4415" stop-color="#190082"/><stop offset="0.4577" stop-color="#100075"/><stop offset="0.4739" stop-color="#0a006c"/><stop offset="0.5172" stop-color="#01005e"/><stop offset="0.5605" stop-color="#010055"/><stop offset="0.6037" stop-color="#00004e"/><stop offset="0.6470" stop-color="#000049"/><stop offset="0.6903" stop-color="#000044"/><stop offset="0.7335" stop-color="#000040"/><stop offset="0.7768" stop-color="#00003d"/><stop offset="0.8201" stop-color="#000039"/><stop offset="0.8633" stop-color="#000035"/><stop offset="0.9066" stop-color="#000032"/><stop offset="0.9499" stop-color="#00002f"/><stop offset="0.9931" stop-color="#00002d"/><stop offset="1.0000" stop-color="#00002c"/></linearGradient>
<linearGradient id="ga22" x1="0" x2="1" y1="0" y2="0"><stop offset="0.0000" stop-color="#ffe100"/><stop offset="0.2306" stop-color="#ffe100"/><stop offset="0.2468" stop-color="#ffdb00"/><stop offset="0.2630" stop-color="#ffca00"/><stop offset="0.2793" stop-color="#ffae00"/><stop offset="0.2955" stop-color="#ff8e00"/><stop offset="0.3117" stop-color="#fc6600"/><stop offset="0.3279" stop-color="#de2c16"/><stop offset="0.3441" stop-color="#c20060"/><stop offset="0.3604" stop-color="#a900a1"/><stop offset="0.3766" stop-color="#8b00d7"/><stop offset="0.3928" stop-color="#6600dd"/><stop offset="0.4090" stop-color="#4800bf"/><stop offset="0.4253" stop-color="#3200a6"/><stop offset="0.4415" stop-color="#22008f"/><stop offset="0.4577" stop-color="#16007e"/><stop offset="0.4739" stop-color="#0e0073"/><stop offset="0.5172" stop-color="#020061"/><stop offset="0.5605" stop-color="#010057"/><stop offset="0.6037" stop-color="#010050"/><stop offset="0.6470" stop-color="#00004a"/><stop offset="0.6903" stop-color="#000045"/><stop offset="0.7335" stop-color="#000041"/><stop offset="0.7768" stop-color="#00003e"/><stop offset="0.8201" stop-color="#00003a"/><stop offset="0.8633" stop-color="#000036"/><stop offset="0.9066" stop-color="#000033"/><stop offset="0.9499" stop-color="#000030"/><stop offset="0.9931" stop-color="#00002e"/><stop offset="1.0000" stop-color="#00002d"/></linearGradient>
<linearGradient id="ga23" x1="0" x2="1" y1="0" y2="0"><stop offset="0.0000" stop-color="#ffeb02"/><stop offset="0.2306" stop-color="#ffeb02"/><stop offset="0.2468" stop-color="#ffe500"/><stop offset="0.2630" stop-color="#ffd500"/><stop offset="0.2793" stop-color="#ffbc00"/><stop offset="0.2955" stop-color="#ff9d00"/><stop offset="0.3117" stop-color="#ff7900"/><stop offset="0.3279" stop-color="#ec4702"/><stop offset="0.3441" stop-color="#d0113c"/><stop offset="0.3604" stop-color="#b6007f"/><stop offset="0.3766" stop-color="#9f00bb"/><stop offset="0.3928" stop-color="#7c00e1"/><stop offset="0.4090" stop-color="#5b00d4"/><stop offset="0.4253" stop-color="#4000b6"/><stop offset="0.4415" stop-color="#2d009f"/><stop offset="0.4577" stop-color="#1f008a"/><stop offset="0.4739" stop-color="#14007b"/><stop offset="0.5172" stop-color="#040064"/><stop offset="0.5605" stop-color="#010059"/><stop offset="0.6037" stop-color="#010051"/><stop offset="0.6470" stop-color="#00004b"/><stop offset="0.6903" stop-color="#000046"/><stop offset="0.7335" stop-color="#000042"/><stop offset="0.7768" stop-color="#00003f"/><stop offset="0.8201" stop-color="#00003b"/><stop offset="0.8633" stop-color="#000037"/><stop offset="0.9066" stop-color="#000034"/><stop offset="0.9499" stop-color="#000031"/><stop offset="0.9931" stop-color="#00002f"/><stop offset="1.0000" stop-color="#00002f"/></linearGradient>
<linearGradient id="ga24" x1="0" x2="1" y1="0" y2="0"><stop offset="0.0000" stop-color="#fff317"/><stop offset="0.2306" stop-color="#fff317"/><stop offset="0.2468" stop-color="#ffee0a"/><stop offset="0.2630" stop-color="#ffdf00"/><stop offset="0.2793" stop-color="#ffc900"/><stop offset="0.2955" stop-color="#ffaa00"/><stop offset="0.3117" stop-color="#ff8900"/><stop offset="0.3279" stop-color="#fa6100"/><stop offset="0.3441" stop-color="#dd2b18"/><stop offset="0.3604" stop-color="#c3005d"/><stop offset="0.3766" stop-color="#ac009a"/><stop offset="0.3928" stop-color="#9300d0"/><stop offset="0.4090" stop-color="#6f00e0"/><stop offset="0.4253" stop-color="#5100c9"/><stop offset="0.4415" stop-color="#3a00af"/><stop offset="0.4577" stop-color="#290099"/><stop offset="0.4739" stop-color="#1c0086"/><stop offset="0.5172" stop-color="#070069"/><stop offset="0.5605" stop-color="#01005b"/><stop offset="0.6037" stop-color="#010053"/><stop offset="0.6470" stop-color="#00004d"/><stop offset="0.6903" stop-color="#000047"/><stop offset="0.7335" stop-color="#000043"/><stop offset="0.7768" stop-color="#000040"/><stop offset="0.8201" stop-color="#00003d"/><stop offset="0.8633" stop-color="#000039"/><stop offset="0.9066" stop-color="#000035"/><stop offset="0.9499" stop-color="#000032"/><stop offset="0.9931" stop-color="#000030"/><stop offset="1.0000" stop-color="#000030"/></linearGradient>
<linearGradient id="ga25" x1="0" x2="1" y1="0" y2="0"><stop offset="0.0000" stop-color="#fff317"/><stop offset="0.2306" stop-color="#fff317"/><stop offset="0.2468" stop-color="#ffef0b"/><stop offset="0.2630" stop-color="#ffe100"/><stop offset="0.2793" stop-color="#ffcd00"/><stop offset="0.2955" stop-color="#ffb000"/><stop offset="0.3117" stop-color="#ff9200"/><stop offset="0.3279" stop-color="#fe6e00"/><stop offset="0.3441" stop-color="#e73d04"/><stop offset="0.3604" stop-color="#ce0c43"/><stop offset="0.3766" stop-color="#b50081"/><stop offset="0.3928" stop-color="#a000b8"/><stop offset="0.4090" stop-color="#8100de"/><stop offset="0.4253" stop-color="#6100db"/><stop offset="0.4415" stop-color="#4600bd"/><stop offset="0.4577" stop-color="#3200a7"/><stop offset="0.4739" stop-color="#230091"/><stop offset="0.5172" stop-color="#0a006d"/><stop offset="0.5605" stop-color="#01005d"/><stop offset="0.6037" stop-color="#010053"/><stop offset="0.6470" stop-color="#00004d"/><stop offset="0.6903" stop-color="#000048"/><stop offset="0.7335" stop-color="#000044"/><stop offset="0.7768" stop-color="#000040"/><stop offset="0.8201" stop-color="#00003d"/><stop offset="0.8633" stop-color="#000039"/><stop offset="0.9066" stop-color="#000036"/><stop offset="0.9499" stop-color="#000033"/><stop offset="0.9931" stop-color="#000030"/><stop offset="1.0000" stop-color="#000030"/></linearGradient>
<linearGradient id="ga26" x1="0" x2="1" y1="0" y2="0"><stop offset="0.0000" stop-color="#fff317"/><stop offset="0.2306" stop-color="#fff317"/><stop offset="0.2468" stop-color="#ffef0c"/><stop offset="0.2630" stop-color="#ffe300"/><stop offset="0.2793" stop-color="#ffd000"/><stop offset="0.2955" stop-color="#ffb600"/><stop offset="0.3117" stop-color="#ff9900"/><stop offset="0.3279" stop-color="#ff7900"/><stop offset="0.3441" stop-color="#f04e00"/><stop offset="0.3604" stop-color="#d61d2b"/><stop offset="0.3766" stop-color="#bf0068"/><stop offset="0.3928" stop-color="#aa009f"/><stop offset="0.4090" stop-color="#9300d1"/><stop offset="0.4253" stop-color="#7100e0"/><stop offset="0.4415" stop-color="#5500cd"/><stop offset="0.4577" stop-color="#3e00b4"/><stop offset="0.4739" stop-color="#2c009e"/><stop offset="0.5172" stop-color="#0f0074"/><stop offset="0.5605" stop-color="#010060"/><stop offset="0.6037" stop-color="#010055"/><stop offset="0.6470" stop-color="#00004e"/><stop offset="0.6903" stop-color="#000049"/><stop offset="0.7335" stop-color="#000045"/><stop offset="0.7768" stop-color="#000041"/><stop offset="0.8201" stop-color="#00003e"/><stop offset="0.8633" stop-color="#00003b"/><stop offset="0.9066" stop-color="#000038"/><stop offset="0.9499" stop-color="#000035"/><stop offset="0.9931" stop-color="#000032"/><stop offset="1.0000" stop-color="#000032"/></linearGradient>
<linearGradient id="ga27" x1="0" x2="1" y1="0" y2="0"><stop offset="0.0000" stop-color="#fff214"/><stop offset="0.2306" stop-color="#fff214"/><stop offset="0.2468" stop-color="#ffee0b"/><stop offset="0.2630" stop-color="#ffe300"/><stop offset="0.2793" stop-color="#ffd200"/><stop offset="0.2955" stop-color="#ffbb00"/><stop offset="0.3117" stop-color="#ffa000"/><stop offset="0.3279" stop-color="#ff8200"/><stop offset="0.3441" stop-color="#f85e00"/><stop offset="0.3604" stop-color="#df2e14"/><stop offset="0.3766" stop-color="#c80650"/><stop offset="0.3928" stop-color="#b30087"/><stop offset="0.4090" stop-color="#a000b9"/><stop offset="0.4253" stop-color="#8300dd"/><stop offset="0.4415" stop-color="#6500dd"/><stop offset="0.4577" stop-color="#4c00c3"/><stop offset="0.4739" stop-color="#3800ad"/><stop offset="0.5172" stop-color="#16007d"/><stop offset="0.5605" stop-color="#050066"/><stop offset="0.6037" stop-color="#010059"/><stop offset="0.6470" stop-color="#010052"/><stop offset="0.6903" stop-color="#00004c"/><stop offset="0.7335" stop-color="#000048"/><stop offset="0.7768" stop-color="#000045"/><stop offset="0.8201" stop-color="#000042"/><stop offset="0.8633" stop-color="#00003f"/><stop offset="0.9066" stop-color="#00003d"/><stop offset="0.9499" stop-color="#00003b"/><stop offset="0.9931" stop-color="#000038"/><stop offset="1.0000" stop-color="#000038"/></linearGradient>
<linearGradient id="ga28" x1="0" x2="1" y1="0" y2="0"><stop offset="0.0000" stop-color="#ffe600"/><stop offset="0.2306" stop-color="#ffe600"/><stop offset="0.2468" stop-color="#ffe200"/><stop offset="0.2630" stop-color="#ffd800"/><stop offset="0.2793" stop-color="#ffc900"/><stop offset="0.2955" stop-color="#ffb400"/><stop offset="0.3117" stop-color="#ff9c00"/><stop offset="0.3279" stop-color="#ff8200"/><stop offset="0.3441" stop-color="#fa6100"/><stop offset="0.3604" stop-color="#e33609"/><stop offset="0.3766" stop-color="#ce0d42"/><stop offset="0.3928" stop-color="#b90077"/><stop offset="0.4090" stop-color="#a700a7"/><stop offset="0.4253" stop-color="#9200d2"/><stop offset="0.4415" stop-color="#7400e1"/><stop offset="0.4577" stop-color="#5a00d3"/><stop offset="0.4739" stop-color="#4500bb"/><stop offset="0.5172" stop-color="#1f008b"/><stop offset="0.5605" stop-color="#0c0070"/><stop offset="0.6037" stop-color="#020062"/><stop offset="0.6470" stop-color="#01005a"/><stop offset="0.6903" stop-color="#010054"/><stop offset="0.7335" stop-color="#010050"/><stop offset="0.7768" stop-color="#00004d"/><stop offset="0.8201" stop-color="#00004a"/><stop offset="0.8633" stop-color="#000047"/><stop offset="0.9066" stop-color="#000046"/><stop offset="0.9499" stop-color="#000044"/><stop offset="0.9931" stop-color="#000043"/><stop offset="1.0000" stop-color="#000042"/></linearGradient>
<linearGradient id="ga29" x1="0" x2="1" y1="0" y2="0"><stop offset="0.0000" stop-color="#ffd900"/><stop offset="0.2306" stop-color="#ffd900"/><stop offset="0.2468" stop-color="#ffd600"/><stop offset="0.2630" stop-color="#ffce00"/><stop offset="0.2793" stop-color="#ffc000"/><stop offset="0.2955" stop-color="#ffae00"/><stop offset="0.3117" stop-color="#ff9900"/><stop offset="0.3279" stop-color="#ff8100"/><stop offset="0.3441" stop-color="#fc6500"/><stop offset="0.3604" stop-color="#e73e04"/><stop offset="0.3766" stop-color="#d31734"/><stop offset="0.3928" stop-color="#c00065"/><stop offset="0.4090" stop-color="#af0092"/><stop offset="0.4253" stop-color="#9e00bc"/><stop offset="0.4415" stop-color="#8700da"/><stop offset="0.4577" stop-color="#6d00df"/><stop offset="0.4739" stop-color="#5700d0"/><stop offset="0.5172" stop-color="#2f00a2"/><stop offset="0.5605" stop-color="#1a0083"/><stop offset="0.6037" stop-color="#0e0073"/><stop offset="0.6470" stop-color="#08006a"/><stop offset="0.6903" stop-color="#040065"/><stop offset="0.7335" stop-color="#020061"/><stop offset="0.7768" stop-color="#01005e"/><stop offset="0.8201" stop-color="#01005b"/><stop offset="0.8633" stop-color="#010059"/><stop offset="0.9066" stop-color="#010057"/><stop offset="0.9499" stop-color="#010055"/><stop offset="0.9931" stop-color="#010054"/><stop offset="1.0000" stop-color="#010054"/></linearGradient>
<linearGradient id="ga30" x1="0" x2="1" y1="0" y2="0"><stop offset="0.0000" stop-color="#ffb900"/><stop offset="0.2306" stop-color="#ffb900"/><stop offset="0.2468" stop-color="#ffb700"/><stop offset="0.2630" stop-color="#ffb000"/><stop offset="0.2793" stop-color="#ffa500"/><stop offset="0.2955" stop-color="#ff9700"/><stop offset="0.3117" stop-color="#ff8600"/><stop offset="0.3279" stop-color="#fe7000"/><stop offset="0.3441" stop-color="#f25300"/><stop offset="0.3604" stop-color="#e1320f"/><stop offset="0.3766" stop-color="#d0113c"/><stop offset="0.3928" stop-color="#bf0066"/><stop offset="0.4090" stop-color="#b0008e"/><stop offset="0.4253" stop-color="#a200b4"/><stop offset="0.4415" stop-color="#9000d3"/><stop offset="0.4577" stop-color="#7900e3"/><stop offset="0.4739" stop-color="#6500dd"/><stop offset="0.5172" stop-color="#3e00b3"/><stop offset="0.5605" stop-color="#280098"/><stop offset="0.6037" stop-color="#1d0088"/><stop offset="0.6470" stop-color="#17007f"/><stop offset="0.6903" stop-color="#130079"/><stop offset="0.7335" stop-color="#100075"/><stop offset="0.7768" stop-color="#0e0073"/><stop offset="0.8201" stop-color="#0c0070"/><stop offset="0.8633" stop-color="#0b006e"/><stop offset="0.9066" stop-color="#0a006d"/><stop offset="0.9499" stop-color="#09006b"/><stop offset="0.9931" stop-color="#08006a"/><stop offset="1.0000" stop-color="#08006a"/></linearGradient>
<linearGradient id="ga31" x1="0" x2="1" y1="0" y2="0"><stop offset="0.0000" stop-color="#ff8f00"/><stop offset="0.2306" stop-color="#ff8f00"/><stop offset="0.2468" stop-color="#ff8d00"/><stop offset="0.2630" stop-color="#ff8700"/><stop offset="0.2793" stop-color="#ff7e00"/><stop offset="0.2955" stop-color="#fe7100"/><stop offset="0.3117" stop-color="#f95f00"/><stop offset="0.3279" stop-color="#eb4602"/><stop offset="0.3441" stop-color="#dd2b18"/><stop offset="0.3604" stop-color="#d0103d"/><stop offset="0.3766" stop-color="#c10062"/><stop offset="0.3928" stop-color="#b40085"/><stop offset="0.4090" stop-color="#a700a7"/><stop offset="0.4253" stop-color="#9900c6"/><stop offset="0.4415" stop-color="#8600db"/><stop offset="0.4577" stop-color="#7200e1"/><stop offset="0.4739" stop-color="#6200dc"/><stop offset="0.5172" stop-color="#4100b7"/><stop offset="0.5605" stop-color="#2f00a2"/><stop offset="0.6037" stop-color="#260094"/><stop offset="0.6470" stop-color="#20008d"/><stop offset="0.6903" stop-color="#1d0088"/><stop offset="0.7335" stop-color="#1b0084"/><stop offset="0.7768" stop-color="#190082"/><stop offset="0.8201" stop-color="#170080"/><stop offset="0.8633" stop-color="#16007e"/><stop offset="0.9066" stop-color="#15007d"/><stop offset="0.9499" stop-color="#14007b"/><stop offset="0.9931" stop-color="#14007a"/><stop offset="1.0000" stop-color="#13007a"/></linearGradient>
<linearGradient id="ga32" x1="0" x2="1" y1="0" y2="0"><stop offset="0.0000" stop-color="#ef4c01"/><stop offset="0.2306" stop-color="#ef4c01"/><stop offset="0.2468" stop-color="#ed4a01"/><stop offset="0.2630" stop-color="#ea4303"/><stop offset="0.2793" stop-color="#e53905"/><stop offset="0.2955" stop-color="#dd2b19"/><stop offset="0.3117" stop-color="#d51a30"/><stop offset="0.3279" stop-color="#cb0949"/><stop offset="0.3441" stop-color="#c00065"/><stop offset="0.3604" stop-color="#b50081"/><stop offset="0.3766" stop-color="#aa009e"/><stop offset="0.3928" stop-color="#9f00ba"/><stop offset="0.4090" stop-color="#9000d3"/><stop offset="0.4253" stop-color="#7d00e1"/><stop offset="0.4415" stop-color="#6b00df"/><stop offset="0.4577" stop-color="#5c00d5"/><stop offset="0.4739" stop-color="#4f00c6"/><stop offset="0.5172" stop-color="#3500aa"/><stop offset="0.5605" stop-color="#270097"/><stop offset="0.6037" stop-color="#20008c"/><stop offset="0.6470" stop-color="#1c0086"/><stop offset="0.6903" stop-color="#190082"/><stop offset="0.7335" stop-color="#17007f"/><stop offset="0.7768" stop-color="#16007d"/><stop offset="0.8201" stop-color="#14007c"/><stop offset="0.8633" stop-color="#13007a"/><stop offset="0.9066" stop-color="#130079"/><stop offset="0.9499" stop-color="#120078"/><stop offset="0.9931" stop-color="#110077"/><stop offset="1.0000" stop-color="#110077"/></linearGradient>
<linearGradient id="ga33" x1="0" x2="1" y1="0" y2="0"><stop offset="0.0000" stop-color="#b7007d"/><stop offset="0.2306" stop-color="#b7007d"/><stop offset="0.2468" stop-color="#b6007f"/><stop offset="0.2630" stop-color="#b40085"/><stop offset="0.2793" stop-color="#b0008e"/><stop offset="0.2955" stop-color="#ab009b"/><stop offset="0.3117" stop-color="#a600ab"/><stop offset="0.3279" stop-color="#9d00bd"/><stop offset="0.3441" stop-color="#9300d0"/><stop offset="0.3604" stop-color="#8300dc"/><stop offset="0.3766" stop-color="#7300e1"/><stop offset="0.3928" stop-color="#6400dc"/><stop offset="0.4090" stop-color="#5400cd"/><stop offset="0.4253" stop-color="#4700bd"/><stop offset="0.4415" stop-color="#3b00b0"/><stop offset="0.4577" stop-color="#3000a4"/><stop offset="0.4739" stop-color="#270097"/><stop offset="0.5172" stop-color="#16007e"/><stop offset="0.5605" stop-color="#0d0071"/><stop offset="0.6037" stop-color="#080069"/><stop offset="0.6470" stop-color="#050065"/><stop offset="0.6903" stop-color="#030063"/><stop offset="0.7335" stop-color="#020061"/><stop offset="0.7768" stop-color="#01005f"/><stop offset="0.8201" stop-color="#01005e"/><stop offset="0.8633" stop-color="#01005d"/><stop offset="0.9066" stop-color="#01005c"/><stop offset="0.9499" stop-color="#01005c"/><stop offset="0.9931" stop-color="#01005b"/><stop offset="1.0000" stop-color="#01005b"/></linearGradient>
<linearGradient id="ga34" x1="0" x2="1" y1="0" y2="0"><stop offset="0.0000" stop-color="#000036"/><stop offset="0.2306" stop-color="#000036"/><stop offset="0.2468" stop-color="#000035"/><stop offset="0.2630" stop-color="#000034"/><stop offset="0.2793" stop-color="#000032"/><stop offset="0.2955" stop-color="#00002e"/><stop offset="0.3117" stop-color="#00002b"/><stop offset="0.3279" stop-color="#000027"/><stop offset="0.3441" stop-color="#000022"/><stop offset="0.3604" stop-color="#00001e"/><stop offset="0.3766" stop-color="#00001a"/><stop offset="0.3928" stop-color="#000016"/><stop offset="0.4090" stop-color="#000012"/><stop offset="0.4253" stop-color="#00000f"/><stop offset="0.4415" stop-color="#00000c"/><stop offset="0.4577" stop-color="#000009"/><stop offset="0.4739" stop-color="#000007"/><stop offset="0.5172" stop-color="#000003"/><stop offset="0.5605" stop-color="#000001"/><stop offset="0.6037" stop-color="#000000"/><stop offset="1.0000" stop-color="#000000"/></linearGradient>
<linearGradient id="gb26" x1="0" x2="1" y1="0" y2="0"><stop offset="0.0000" stop-color="#000000"/><stop offset="0.1127" stop-color="#000000"/><stop offset="0.1157" stop-color="#000001"/><stop offset="0.4078" stop-color="#000001"/><stop offset="0.4371" stop-color="#000005"/><stop offset="0.4663" stop-color="#00000a"/><stop offset="0.4955" stop-color="#000011"/><stop offset="0.5247" stop-color="#000018"/><stop offset="0.5539" stop-color="#000020"/><stop offset="0.6172" stop-color="#000032"/><stop offset="0.6805" stop-color="#000040"/><stop offset="0.7439" stop-color="#000049"/><stop offset="0.8072" stop-color="#010051"/><stop offset="0.8705" stop-color="#010058"/><stop offset="0.9338" stop-color="#01005e"/><stop offset="0.9971" stop-color="#030063"/><stop offset="1.0000" stop-color="#040064"/></linearGradient>
<linearGradient id="gb27" x1="0" x2="1" y1="0" y2="0"><stop offset="0.0000" stop-color="#000000"/><stop offset="0.1127" stop-color="#000000"/><stop offset="0.1157" stop-color="#000005"/><stop offset="0.1449" stop-color="#000006"/><stop offset="0.1741" stop-color="#000008"/><stop offset="0.2033" stop-color="#00000a"/><stop offset="0.2325" stop-color="#000019"/><stop offset="0.2617" stop-color="#00002c"/><stop offset="0.2910" stop-color="#00003f"/><stop offset="0.3202" stop-color="#00004c"/><stop offset="0.3494" stop-color="#010059"/><stop offset="0.3786" stop-color="#040065"/><stop offset="0.4078" stop-color="#0c0070"/><stop offset="0.4371" stop-color="#14007b"/><stop offset="0.4663" stop-color="#1b0085"/><stop offset="0.4955" stop-color="#22008f"/><stop offset="0.5247" stop-color="#280097"/><stop offset="0.5539" stop-color="#2d009f"/><stop offset="0.6172" stop-color="#3700ac"/><stop offset="0.6805" stop-color="#3f00b5"/><stop offset="0.7439" stop-color="#4600bd"/><stop offset="0.8072" stop-color="#4b00c2"/><stop offset="0.8705" stop-color="#4f00c7"/><stop offset="0.9338" stop-color="#5300cb"/><stop offset="0.9971" stop-color="#5500ce"/><stop offset="1.0000" stop-color="#5600ce"/></linearGradient>
<linearGradient id="gb28" x1="0" x2="1" y1="0" y2="0"><stop offset="0.0000" stop-color="#010052"/><stop offset="0.1127" stop-color="#010052"/><stop offset="0.1157" stop-color="#000045"/><stop offset="0.1449" stop-color="#01005a"/><stop offset="0.1741" stop-color="#0c0070"/><stop offset="0.2033" stop-color="#1b0084"/><stop offset="0.2325" stop-color="#280098"/><stop offset="0.2617" stop-color="#3400a8"/><stop offset="0.2910" stop-color="#3f00b4"/><stop offset="0.3202" stop-color="#4800bf"/><stop offset="0.3494" stop-color="#5000c7"/><stop offset="0.3786" stop-color="#5600cf"/><stop offset="0.4078" stop-color="#5b00d5"/><stop offset="0.4371" stop-color="#5f00d9"/><stop offset="0.4663" stop-color="#6300dc"/><stop offset="0.4955" stop-color="#6500dd"/><stop offset="0.5247" stop-color="#6600dd"/><stop offset="0.5539" stop-color="#6700dd"/><stop offset="0.6172" stop-color="#250094"/><stop offset="0.6805" stop-color="#2a009b"/><stop offset="0.7439" stop-color="#2f00a2"/><stop offset="0.8072" stop-color="#3200a7"/><stop offset="0.8705" stop-color="#3600aa"/><stop offset="0.9338" stop-color="#3800ad"/><stop offset="0.9971" stop-color="#3a00af"/><stop offset="1.0000" stop-color="#3a00b0"/></linearGradient>
<linearGradient id="gb29" x1="0" x2="1" y1="0" y2="0"><stop offset="0.0000" stop-color="#5800d1"/><stop offset="0.1127" stop-color="#5800d1"/><stop offset="0.1157" stop-color="#4300b9"/><stop offset="0.1449" stop-color="#5100c9"/><stop offset="0.1741" stop-color="#5b00d4"/><stop offset="0.2033" stop-color="#6200dc"/><stop offset="0.2325" stop-color="#6600dd"/><stop offset="0.2617" stop-color="#7500e2"/><stop offset="0.2910" stop-color="#8300dc"/><stop offset="0.3202" stop-color="#9000d3"/><stop offset="0.3494" stop-color="#9900c5"/><stop offset="0.3786" stop-color="#a100b7"/><stop offset="0.4078" stop-color="#a600a9"/><stop offset="0.4371" stop-color="#ab009c"/><stop offset="0.4663" stop-color="#af0091"/><stop offset="0.4955" stop-color="#b30086"/><stop offset="0.5247" stop-color="#b7007c"/><stop offset="0.5539" stop-color="#bb0073"/><stop offset="0.6172" stop-color="#c10062"/><stop offset="0.6805" stop-color="#c70454"/><stop offset="0.7439" stop-color="#cc0a48"/><stop offset="0.8072" stop-color="#d0103e"/><stop offset="0.8705" stop-color="#d31536"/><stop offset="0.9338" stop-color="#d51a2f"/><stop offset="0.9971" stop-color="#d71e29"/><stop offset="1.0000" stop-color="#d71f29"/></linearGradient>
<linearGradient id="gb30" x1="0" x2="1" y1="0" y2="0"><stop offset="0.0000" stop-color="#8300dd"/><stop offset="0.1127" stop-color="#8300dd"/><stop offset="0.1157" stop-color="#9000d3"/><stop offset="0.1449" stop-color="#a500ae"/><stop offset="0.1741" stop-color="#b20089"/><stop offset="0.2033" stop-color="#bf0068"/><stop offset="0.2325" stop-color="#cb094a"/><stop offset="0.2617" stop-color="#d51a2f"/><stop offset="0.2910" stop-color="#de2d16"/><stop offset="0.3202" stop-color="#e73e04"/><stop offset="0.3494" stop-color="#ef4d00"/><stop offset="0.3786" stop-color="#f75c00"/><stop offset="0.4078" stop-color="#fc6700"/><stop offset="0.4371" stop-color="#fe7000"/><stop offset="0.4663" stop-color="#ff7700"/><stop offset="0.4955" stop-color="#ff7e00"/><stop offset="0.5247" stop-color="#ff8400"/><stop offset="0.5539" stop-color="#ff8900"/><stop offset="0.6172" stop-color="#ff9100"/><stop offset="0.6805" stop-color="#ff9800"/><stop offset="0.7439" stop-color="#ff9e00"/><stop offset="0.8072" stop-color="#ffa200"/><stop offset="0.8705" stop-color="#ffa500"/><stop offset="0.9338" stop-color="#ffa800"/><stop offset="0.9971" stop-color="#ffaa00"/><stop offset="1.0000" stop-color="#ffaa00"/></linearGradient>
<linearGradient id="gb31" x1="0" x2="1" y1="0" y2="0"><stop offset="0.0000" stop-color="#9400ce"/><stop offset="0.1127" stop-color="#9400ce"/><stop offset="0.1157" stop-color="#a300b3"/><stop offset="0.1449" stop-color="#b0008f"/><stop offset="0.1741" stop-color="#bb0071"/><stop offset="0.2033" stop-color="#c50358"/><stop offset="0.2325" stop-color="#ce0d42"/><stop offset="0.2617" stop-color="#d51a2f"/><stop offset="0.2910" stop-color="#db261f"/><stop offset="0.3202" stop-color="#e03110"/><stop offset="0.3494" stop-color="#e53905"/><stop offset="0.3786" stop-color="#e94103"/><stop offset="0.4078" stop-color="#ec4702"/><stop offset="0.4371" stop-color="#ef4d01"/><stop offset="0.4663" stop-color="#f15100"/><stop offset="0.4955" stop-color="#f35500"/><stop offset="0.5247" stop-color="#f55800"/><stop offset="0.5539" stop-color="#f75b00"/><stop offset="0.6172" stop-color="#f95f00"/><stop offset="0.6805" stop-color="#fb6200"/><stop offset="0.7439" stop-color="#fb6400"/><stop offset="0.8072" stop-color="#fc6500"/><stop offset="0.8705" stop-color="#fc6600"/><stop offset="1.0000" stop-color="#fc6600"/></linearGradient>
<linearGradient id="gb32" x1="0" x2="1" y1="0" y2="0"><stop offset="0.0000" stop-color="#a000b8"/><stop offset="0.1127" stop-color="#a000b8"/><stop offset="0.1157" stop-color="#a000b9"/><stop offset="0.1449" stop-color="#9300d0"/><stop offset="0.1741" stop-color="#8200dd"/><stop offset="0.2033" stop-color="#7200e1"/><stop offset="0.2325" stop-color="#7100e0"/><stop offset="0.2617" stop-color="#7500e2"/><stop offset="0.2910" stop-color="#7800e3"/><stop offset="0.3202" stop-color="#7b00e3"/><stop offset="0.3494" stop-color="#7c00e1"/><stop offset="0.3786" stop-color="#7d00e1"/><stop offset="0.4078" stop-color="#7e00e0"/><stop offset="0.4955" stop-color="#7e00e0"/><stop offset="0.5247" stop-color="#7d00e1"/><stop offset="0.5539" stop-color="#7d00e1"/><stop offset="0.6172" stop-color="#7b00e2"/><stop offset="0.6805" stop-color="#7a00e3"/><stop offset="0.7439" stop-color="#7800e3"/><stop offset="0.8072" stop-color="#7700e2"/><stop offset="0.8705" stop-color="#7800e2"/><stop offset="0.9338" stop-color="#7800e3"/><stop offset="0.9971" stop-color="#7900e3"/><stop offset="1.0000" stop-color="#7900e3"/></linearGradient>
<linearGradient id="gb33" x1="0" x2="1" y1="0" y2="0"><stop offset="0.0000" stop-color="#a900a2"/><stop offset="0.1127" stop-color="#a900a2"/><stop offset="0.1157" stop-color="#a900a3"/><stop offset="0.1449" stop-color="#a000b9"/><stop offset="0.1741" stop-color="#9400cf"/><stop offset="0.2033" stop-color="#8d00d6"/><stop offset="0.2325" stop-color="#8d00d5"/><stop offset="0.2617" stop-color="#8e00d5"/><stop offset="0.2910" stop-color="#8f00d4"/><stop offset="0.3202" stop-color="#8f00d4"/><stop offset="0.3494" stop-color="#9000d4"/><stop offset="0.3786" stop-color="#9000d3"/><stop offset="0.4078" stop-color="#9100d3"/><stop offset="0.4663" stop-color="#9100d3"/><stop offset="0.4955" stop-color="#9100d2"/><stop offset="0.5247" stop-color="#9200d2"/><stop offset="0.6805" stop-color="#9200d2"/><stop offset="0.7439" stop-color="#9200d1"/><stop offset="0.8072" stop-color="#9200d1"/><stop offset="0.8705" stop-color="#9300d1"/><stop offset="1.0000" stop-color="#9300d1"/></linearGradient>
<linearGradient id="gb34" x1="0" x2="1" y1="0" y2="0"><stop offset="0.0000" stop-color="#b30087"/><stop offset="0.1127" stop-color="#b30087"/><stop offset="0.1157" stop-color="#b30088"/><stop offset="0.1449" stop-color="#ab009d"/><stop offset="0.1741" stop-color="#a200b4"/><stop offset="0.2033" stop-color="#9700c9"/><stop offset="0.2325" stop-color="#8f00d4"/><stop offset="0.2617" stop-color="#8e00d5"/><stop offset="0.2910" stop-color="#8d00d5"/><stop offset="0.3202" stop-color="#8d00d6"/><stop offset="0.3494" stop-color="#8c00d6"/><stop offset="0.3786" stop-color="#8c00d7"/><stop offset="0.4078" stop-color="#8b00d7"/><stop offset="0.4371" stop-color="#8b00d7"/><stop offset="0.4663" stop-color="#8a00d8"/><stop offset="0.4955" stop-color="#8a00d8"/><stop offset="0.5247" stop-color="#8900d8"/><stop offset="0.5539" stop-color="#8900d9"/><stop offset="0.6172" stop-color="#8800d9"/><stop offset="0.6805" stop-color="#8700da"/><stop offset="0.7439" stop-color="#8600da"/><stop offset="0.8072" stop-color="#8600db"/><stop offset="0.8705" stop-color="#8500db"/><stop offset="1.0000" stop-color="#8500db"/></linearGradient>
<linearGradient id="gb35" x1="0" x2="1" y1="0" y2="0"><stop offset="0.0000" stop-color="#c4015a"/><stop offset="0.1127" stop-color="#c4015a"/><stop offset="0.1157" stop-color="#c4015b"/><stop offset="0.1449" stop-color="#bc0070"/><stop offset="0.1741" stop-color="#b30088"/><stop offset="0.2033" stop-color="#aa00a0"/><stop offset="0.2325" stop-color="#a100b7"/><stop offset="0.2617" stop-color="#9600cb"/><stop offset="0.2910" stop-color="#8800d9"/><stop offset="0.3202" stop-color="#7900e3"/><stop offset="0.3494" stop-color="#6c00df"/><stop offset="0.3786" stop-color="#6300dc"/><stop offset="0.4078" stop-color="#6200dc"/><stop offset="0.4371" stop-color="#6100db"/><stop offset="0.4663" stop-color="#6000d9"/><stop offset="0.4955" stop-color="#5f00d8"/><stop offset="0.5247" stop-color="#5e00d7"/><stop offset="0.5539" stop-color="#5d00d6"/><stop offset="0.6172" stop-color="#5b00d5"/><stop offset="0.6805" stop-color="#5a00d3"/><stop offset="0.7439" stop-color="#5900d2"/><stop offset="0.8072" stop-color="#5800d1"/><stop offset="0.8705" stop-color="#5700d0"/><stop offset="0.9338" stop-color="#5700cf"/><stop offset="0.9971" stop-color="#5600cf"/><stop offset="1.0000" stop-color="#5600ce"/></linearGradient>
<linearGradient id="gb36" x1="0" x2="1" y1="0" y2="0"><stop offset="0.0000" stop-color="#d51b2e"/><stop offset="0.1127" stop-color="#d51b2e"/><stop offset="0.1157" stop-color="#d51a2f"/><stop offset="0.1449" stop-color="#cd0c44"/><stop offset="0.1741" stop-color="#c3005c"/><stop offset="0.2033" stop-color="#ba0076"/><stop offset="0.2325" stop-color="#b0008e"/><stop offset="0.2617" stop-color="#a800a6"/><stop offset="0.2910" stop-color="#9e00bc"/><stop offset="0.3202" stop-color="#9300d0"/><stop offset="0.3494" stop-color="#8400dc"/><stop offset="0.3786" stop-color="#7600e2"/><stop offset="0.4078" stop-color="#6a00de"/><stop offset="0.4371" stop-color="#5f00d8"/><stop offset="0.4663" stop-color="#5400cc"/><stop offset="0.4955" stop-color="#4b00c2"/><stop offset="0.5247" stop-color="#4300b9"/><stop offset="0.5539" stop-color="#3c00b1"/><stop offset="0.6172" stop-color="#2f00a2"/><stop offset="0.6805" stop-color="#250094"/><stop offset="0.7439" stop-color="#220090"/><stop offset="0.8072" stop-color="#21008e"/><stop offset="0.8705" stop-color="#21008d"/><stop offset="0.9338" stop-color="#20008c"/><stop offset="1.0000" stop-color="#20008c"/></linearGradient>
<linearGradient id="gb37" x1="0" x2="1" y1="0" y2="0"><stop offset="0.0000" stop-color="#e53905"/><stop offset="0.1157" stop-color="#e53905"/><stop offset="0.1449" stop-color="#dd2a1a"/><stop offset="0.1741" stop-color="#d31733"/><stop offset="0.2033" stop-color="#c9074e"/><stop offset="0.2325" stop-color="#bf0068"/><stop offset="0.2617" stop-color="#b50081"/><stop offset="0.2910" stop-color="#ac0099"/><stop offset="0.3202" stop-color="#a400b1"/><stop offset="0.3494" stop-color="#9900c6"/><stop offset="0.3786" stop-color="#8d00d6"/><stop offset="0.4078" stop-color="#7e00e0"/><stop offset="0.4371" stop-color="#7100e0"/><stop offset="0.4663" stop-color="#6600dd"/><stop offset="0.4955" stop-color="#5b00d4"/><stop offset="0.5247" stop-color="#5100c9"/><stop offset="0.5539" stop-color="#4900c0"/><stop offset="0.6172" stop-color="#3a00af"/><stop offset="0.6805" stop-color="#2f00a2"/><stop offset="0.7439" stop-color="#270096"/><stop offset="0.8072" stop-color="#21008d"/><stop offset="0.8705" stop-color="#1c0087"/><stop offset="0.9338" stop-color="#190082"/><stop offset="0.9971" stop-color="#17007f"/><stop offset="1.0000" stop-color="#17007f"/></linearGradient>
<linearGradient id="gb38" x1="0" x2="1" y1="0" y2="0"><stop offset="0.0000" stop-color="#f45600"/><stop offset="0.1157" stop-color="#f45600"/><stop offset="0.1449" stop-color="#ec4702"/><stop offset="0.1741" stop-color="#e2340b"/><stop offset="0.2033" stop-color="#d82027"/><stop offset="0.2325" stop-color="#ce0d43"/><stop offset="0.2617" stop-color="#c3005e"/><stop offset="0.2910" stop-color="#b90078"/><stop offset="0.3202" stop-color="#af0090"/><stop offset="0.3494" stop-color="#a700a8"/><stop offset="0.3786" stop-color="#9d00be"/><stop offset="0.4078" stop-color="#9300d1"/><stop offset="0.4371" stop-color="#8400dc"/><stop offset="0.4663" stop-color="#7700e2"/><stop offset="0.4955" stop-color="#6b00df"/><stop offset="0.5247" stop-color="#6100da"/><stop offset="0.5539" stop-color="#5700cf"/><stop offset="0.6172" stop-color="#4500bc"/><stop offset="0.6805" stop-color="#3900ae"/><stop offset="0.7439" stop-color="#2f00a2"/><stop offset="0.8072" stop-color="#280098"/><stop offset="0.8705" stop-color="#230091"/><stop offset="0.9338" stop-color="#20008c"/><stop offset="0.9971" stop-color="#1d0088"/><stop offset="1.0000" stop-color="#1d0088"/></linearGradient>
<linearGradient id="gb39" x1="0" x2="1" y1="0" y2="0"><stop offset="0.0000" stop-color="#fd6a00"/><stop offset="0.1157" stop-color="#fd6a00"/><stop offset="0.1449" stop-color="#f85f00"/><stop offset="0.1741" stop-color="#ee4c01"/><stop offset="0.2033" stop-color="#e43707"/><stop offset="0.2325" stop-color="#d92224"/><stop offset="0.2617" stop-color="#cf0e40"/><stop offset="0.2910" stop-color="#c4015c"/><stop offset="0.3202" stop-color="#ba0076"/><stop offset="0.3494" stop-color="#b0008f"/><stop offset="0.3786" stop-color="#a800a6"/><stop offset="0.4078" stop-color="#9e00bc"/><stop offset="0.4371" stop-color="#9400cf"/><stop offset="0.4663" stop-color="#8600db"/><stop offset="0.4955" stop-color="#7900e3"/><stop offset="0.5247" stop-color="#6d00df"/><stop offset="0.5539" stop-color="#6200dc"/><stop offset="0.6172" stop-color="#4f00c6"/><stop offset="0.6805" stop-color="#4000b6"/><stop offset="0.7439" stop-color="#3600aa"/><stop offset="0.8072" stop-color="#2e00a0"/><stop offset="0.8705" stop-color="#280098"/><stop offset="0.9338" stop-color="#240093"/><stop offset="0.9971" stop-color="#22008f"/><stop offset="1.0000" stop-color="#22008e"/></linearGradient>
<linearGradient id="gb40" x1="0" x2="1" y1="0" y2="0"><stop offset="0.0000" stop-color="#ff7a00"/><stop offset="0.1157" stop-color="#ff7a00"/><stop offset="0.1449" stop-color="#fe7100"/><stop offset="0.1741" stop-color="#fb6400"/><stop offset="0.2033" stop-color="#f04f00"/><stop offset="0.2325" stop-color="#e53a05"/><stop offset="0.2617" stop-color="#d92422"/><stop offset="0.2910" stop-color="#cf0f3f"/><stop offset="0.3202" stop-color="#c4015a"/><stop offset="0.3494" stop-color="#ba0075"/><stop offset="0.3786" stop-color="#b1008d"/><stop offset="0.4078" stop-color="#a800a5"/><stop offset="0.4371" stop-color="#9f00ba"/><stop offset="0.4663" stop-color="#9400ce"/><stop offset="0.4955" stop-color="#8700da"/><stop offset="0.5247" stop-color="#7a00e3"/><stop offset="0.5539" stop-color="#6e00e0"/><stop offset="0.6172" stop-color="#5900d2"/><stop offset="0.6805" stop-color="#4800bf"/><stop offset="0.7439" stop-color="#3c00b2"/><stop offset="0.8072" stop-color="#3400a8"/><stop offset="0.8705" stop-color="#2e00a0"/><stop offset="0.9338" stop-color="#29009a"/><stop offset="0.9971" stop-color="#260095"/><stop offset="1.0000" stop-color="#260095"/></linearGradient>
<linearGradient id="gb41" x1="0" x2="1" y1="0" y2="0"><stop offset="0.0000" stop-color="#ff8800"/><stop offset="0.1127" stop-color="#ff8800"/><stop offset="0.1157" stop-color="#ff8700"/><stop offset="0.1449" stop-color="#ff8000"/><stop offset="0.1741" stop-color="#ff7400"/><stop offset="0.2033" stop-color="#fc6500"/><stop offset="0.2325" stop-color="#f04f00"/><stop offset="0.2617" stop-color="#e53905"/><stop offset="0.2910" stop-color="#d92323"/><stop offset="0.3202" stop-color="#cf0e40"/><stop offset="0.3494" stop-color="#c3015c"/><stop offset="0.3786" stop-color="#b90076"/><stop offset="0.4078" stop-color="#b0008f"/><stop offset="0.4371" stop-color="#a800a6"/><stop offset="0.4663" stop-color="#9e00bb"/><stop offset="0.4955" stop-color="#9400ce"/><stop offset="0.5247" stop-color="#8700da"/><stop offset="0.5539" stop-color="#7a00e3"/><stop offset="0.6172" stop-color="#6300dc"/><stop offset="0.6805" stop-color="#5000c8"/><stop offset="0.7439" stop-color="#4300b9"/><stop offset="0.8072" stop-color="#3900ae"/><stop offset="0.8705" stop-color="#3200a7"/><stop offset="0.9338" stop-color="#2e00a0"/><stop offset="0.9971" stop-color="#2a009b"/><stop offset="1.0000" stop-color="#2a009b"/></linearGradient>
<linearGradient id="gb42" x1="0" x2="1" y1="0" y2="0"><stop offset="0.0000" stop-color="#ff9300"/><stop offset="0.1157" stop-color="#ff9300"/><stop offset="0.1449" stop-color="#ff8d00"/><stop offset="0.1741" stop-color="#ff8200"/><stop offset="0.2033" stop-color="#ff7400"/><stop offset="0.2325" stop-color="#fc6400"/><stop offset="0.2617" stop-color="#ef4e00"/><stop offset="0.2910" stop-color="#e43708"/><stop offset="0.3202" stop-color="#d82126"/><stop offset="0.3494" stop-color="#ce0c43"/><stop offset="0.3786" stop-color="#c2005f"/><stop offset="0.4078" stop-color="#b80079"/><stop offset="0.4371" stop-color="#af0091"/><stop offset="0.4663" stop-color="#a700a8"/><stop offset="0.4955" stop-color="#9d00bd"/><stop offset="0.5247" stop-color="#9300d0"/><stop offset="0.5539" stop-color="#8600db"/><stop offset="0.6172" stop-color="#6c00df"/><stop offset="0.6805" stop-color="#5800d1"/><stop offset="0.7439" stop-color="#4900c0"/><stop offset="0.8072" stop-color="#3f00b4"/><stop offset="0.8705" stop-color="#3700ac"/><stop offset="0.9338" stop-color="#3200a6"/><stop offset="0.9971" stop-color="#2e00a1"/><stop offset="1.0000" stop-color="#2e00a1"/></linearGradient>
<linearGradient id="gb43" x1="0" x2="1" y1="0" y2="0"><stop offset="0.0000" stop-color="#ff9f00"/><stop offset="0.1157" stop-color="#ff9f00"/><stop offset="0.1449" stop-color="#ff9900"/><stop offset="0.1741" stop-color="#ff8f00"/><stop offset="0.2033" stop-color="#ff8200"/><stop offset="0.2325" stop-color="#ff7200"/><stop offset="0.2617" stop-color="#fa6100"/><stop offset="0.2910" stop-color="#ed4a01"/><stop offset="0.3202" stop-color="#e2330e"/><stop offset="0.3494" stop-color="#d61d2c"/><stop offset="0.3786" stop-color="#cc0a48"/><stop offset="0.4078" stop-color="#c10063"/><stop offset="0.4371" stop-color="#b7007d"/><stop offset="0.4663" stop-color="#ae0094"/><stop offset="0.4955" stop-color="#a600ab"/><stop offset="0.5247" stop-color="#9d00bf"/><stop offset="0.5539" stop-color="#9300d1"/><stop offset="0.6172" stop-color="#7800e2"/><stop offset="0.6805" stop-color="#6200dc"/><stop offset="0.7439" stop-color="#5200ca"/><stop offset="0.8072" stop-color="#4600bc"/><stop offset="0.8705" stop-color="#3d00b3"/><stop offset="0.9338" stop-color="#3700ac"/><stop offset="0.9971" stop-color="#3300a7"/><stop offset="1.0000" stop-color="#3300a7"/></linearGradient>
<linearGradient id="gb44" x1="0" x2="1" y1="0" y2="0"><stop offset="0.0000" stop-color="#ffa900"/><stop offset="0.1157" stop-color="#ffa900"/><stop offset="0.1449" stop-color="#ffa300"/><stop offset="0.1741" stop-color="#ff9900"/><stop offset="0.2033" stop-color="#ff8d00"/><stop offset="0.2325" stop-color="#ff7f00"/><stop offset="0.2617" stop-color="#fe6e00"/><stop offset="0.2910" stop-color="#f65a00"/><stop offset="0.3202" stop-color="#ea4303"/><stop offset="0.3494" stop-color="#de2d16"/><stop offset="0.3786" stop-color="#d31733"/><stop offset="0.4078" stop-color="#c9074f"/><stop offset="0.4371" stop-color="#be0069"/><stop offset="0.4663" stop-color="#b50081"/><stop offset="0.4955" stop-color="#ad0098"/><stop offset="0.5247" stop-color="#a500ad"/><stop offset="0.5539" stop-color="#9c00c1"/><stop offset="0.6172" stop-color="#8300dc"/><stop offset="0.6805" stop-color="#6d00df"/><stop offset="0.7439" stop-color="#5b00d4"/><stop offset="0.8072" stop-color="#4d00c5"/><stop offset="0.8705" stop-color="#4400ba"/><stop offset="0.9338" stop-color="#3d00b2"/><stop offset="0.9971" stop-color="#3800ad"/><stop offset="1.0000" stop-color="#3800ad"/></linearGradient>
<linearGradient id="gb45" x1="0" x2="1" y1="0" y2="0"><stop offset="0.0000" stop-color="#ffb400"/><stop offset="0.1157" stop-color="#ffb400"/><stop offset="0.1449" stop-color="#ffad00"/><stop offset="0.1741" stop-color="#ffa400"/><stop offset="0.2033" stop-color="#ff9700"/><stop offset="0.2325" stop-color="#ff8a00"/><stop offset="0.2617" stop-color="#ff7a00"/><stop offset="0.2910" stop-color="#fd6900"/><stop offset="0.3202" stop-color="#f25300"/><stop offset="0.3494" stop-color="#e73c04"/><stop offset="0.3786" stop-color="#db261f"/><stop offset="0.4078" stop-color="#d1123b"/><stop offset="0.4371" stop-color="#c60456"/><stop offset="0.4663" stop-color="#bc006f"/><stop offset="0.4955" stop-color="#b30086"/><stop offset="0.5247" stop-color="#ab009c"/><stop offset="0.5539" stop-color="#a400b0"/><stop offset="0.6172" stop-color="#8f00d4"/><stop offset="0.6805" stop-color="#7700e2"/><stop offset="0.7439" stop-color="#6400dd"/><stop offset="0.8072" stop-color="#5600ce"/><stop offset="0.8705" stop-color="#4b00c2"/><stop offset="0.9338" stop-color="#4300b9"/><stop offset="0.9971" stop-color="#3d00b3"/><stop offset="1.0000" stop-color="#3d00b3"/></linearGradient>
<linearGradient id="gb46" x1="0" x2="1" y1="0" y2="0"><stop offset="0.0000" stop-color="#ffbe00"/><stop offset="0.1157" stop-color="#ffbe00"/><stop offset="0.1449" stop-color="#ffb800"/><stop offset="0.1741" stop-color="#ffae00"/><stop offset="0.2033" stop-color="#ffa200"/><stop offset="0.2325" stop-color="#ff9400"/><stop offset="0.2617" stop-color="#ff8600"/><stop offset="0.2910" stop-color="#ff7500"/><stop offset="0.3202" stop-color="#fb6400"/><stop offset="0.3494" stop-color="#ef4c01"/><stop offset="0.3786" stop-color="#e33609"/><stop offset="0.4078" stop-color="#d82027"/><stop offset="0.4371" stop-color="#ce0d42"/><stop offset="0.4663" stop-color="#c4015c"/><stop offset="0.4955" stop-color="#ba0074"/><stop offset="0.5247" stop-color="#b2008a"/><stop offset="0.5539" stop-color="#aa009f"/><stop offset="0.6172" stop-color="#9900c6"/><stop offset="0.6805" stop-color="#8200dd"/><stop offset="0.7439" stop-color="#6e00df"/><stop offset="0.8072" stop-color="#5e00d8"/><stop offset="0.8705" stop-color="#5200ca"/><stop offset="0.9338" stop-color="#4900c0"/><stop offset="0.9971" stop-color="#4300b9"/><stop offset="1.0000" stop-color="#4200b9"/></linearGradient>
<linearGradient id="gb47" x1="0" x2="1" y1="0" y2="0"><stop offset="0.0000" stop-color="#ffc400"/><stop offset="0.1157" stop-color="#ffc400"/><stop offset="0.1449" stop-color="#ffbe00"/><stop offset="0.1741" stop-color="#ffb300"/><stop offset="0.2033" stop-color="#ffa700"/><stop offset="0.2325" stop-color="#ff9a00"/><stop offset="0.2617" stop-color="#ff8c00"/><stop offset="0.2910" stop-color="#ff7c00"/><stop offset="0.3202" stop-color="#fd6b00"/><stop offset="0.3494" stop-color="#f45700"/><stop offset="0.3786" stop-color="#e94003"/><stop offset="0.4078" stop-color="#dd2b19"/><stop offset="0.4371" stop-color="#d31734"/><stop offset="0.4663" stop-color="#c9074e"/><stop offset="0.4955" stop-color="#bf0066"/><stop offset="0.5247" stop-color="#b7007d"/><stop offset="0.5539" stop-color="#af0092"/><stop offset="0.6172" stop-color="#9f00bb"/><stop offset="0.6805" stop-color="#8a00d7"/><stop offset="0.7439" stop-color="#7500e2"/><stop offset="0.8072" stop-color="#6500dd"/><stop offset="0.8705" stop-color="#5800d0"/><stop offset="0.9338" stop-color="#4e00c5"/><stop offset="0.9971" stop-color="#4700bd"/><stop offset="1.0000" stop-color="#4600bd"/></linearGradient>
<linearGradient id="gb48" x1="0" x2="1" y1="0" y2="0"><stop offset="0.0000" stop-color="#ffc700"/><stop offset="0.1157" stop-color="#ffc700"/><stop offset="0.1449" stop-color="#ffc100"/><stop offset="0.1741" stop-color="#ffb700"/><stop offset="0.2033" stop-color="#ffab00"/><stop offset="0.2325" stop-color="#ff9e00"/><stop offset="0.2617" stop-color="#ff9000"/><stop offset="0.2910" stop-color="#ff8100"/><stop offset="0.3202" stop-color="#fe7100"/><stop offset="0.3494" stop-color="#f95f00"/><stop offset="0.3786" stop-color="#ed4801"/><stop offset="0.4078" stop-color="#e2330d"/><stop offset="0.4371" stop-color="#d71e29"/><stop offset="0.4663" stop-color="#ce0d43"/><stop offset="0.4955" stop-color="#c4015b"/><stop offset="0.5247" stop-color="#bb0072"/><stop offset="0.5539" stop-color="#b30087"/><stop offset="0.6172" stop-color="#a400b1"/><stop offset="0.6805" stop-color="#9200d2"/><stop offset="0.7439" stop-color="#7c00e2"/><stop offset="0.8072" stop-color="#6a00de"/><stop offset="0.8705" stop-color="#5d00d6"/><stop offset="0.9338" stop-color="#5200ca"/><stop offset="0.9971" stop-color="#4a00c1"/><stop offset="1.0000" stop-color="#4a00c1"/></linearGradient>
<linearGradient id="gb49" x1="0" x2="1" y1="0" y2="0"><stop offset="0.0000" stop-color="#ffca00"/><stop offset="0.1157" stop-color="#ffca00"/><stop offset="0.1449" stop-color="#ffc400"/><stop offset="0.1741" stop-color="#ffba00"/><stop offset="0.2033" stop-color="#ffae00"/><stop offset="0.2325" stop-color="#ffa200"/><stop offset="0.2617" stop-color="#ff9400"/><stop offset="0.2910" stop-color="#ff8600"/><stop offset="0.3202" stop-color="#ff7600"/><stop offset="0.3494" stop-color="#fc6600"/><stop offset="0.3786" stop-color="#f15000"/><stop offset="0.4078" stop-color="#e63b05"/><stop offset="0.4371" stop-color="#db271e"/><stop offset="0.4663" stop-color="#d21438"/><stop offset="0.4955" stop-color="#c80651"/><stop offset="0.5247" stop-color="#bf0068"/><stop offset="0.5539" stop-color="#b7007d"/><stop offset="0.6172" stop-color="#a700a7"/><stop offset="0.6805" stop-color="#9700c9"/><stop offset="0.7439" stop-color="#8200dd"/><stop offset="0.8072" stop-color="#7000e0"/><stop offset="0.8705" stop-color="#6200dc"/><stop offset="0.9338" stop-color="#5600cf"/><stop offset="0.9971" stop-color="#4e00c5"/><stop offset="1.0000" stop-color="#4d00c5"/></linearGradient>
<linearGradient id="gb50" x1="0" x2="1" y1="0" y2="0"><stop offset="0.0000" stop-color="#ffcd00"/><stop offset="0.1157" stop-color="#ffcd00"/><stop offset="0.1449" stop-color="#ffc700"/><stop offset="0.1741" stop-color="#ffbe00"/><stop offset="0.2033" stop-color="#ffb200"/><stop offset="0.2325" stop-color="#ffa600"/><stop offset="0.2617" stop-color="#ff9800"/><stop offset="0.2910" stop-color="#ff8b00"/><stop offset="0.3202" stop-color="#ff7b00"/><stop offset="0.3494" stop-color="#fd6b00"/><stop offset="0.3786" stop-color="#f55800"/><stop offset="0.4078" stop-color="#ea4303"/><stop offset="0.4371" stop-color="#df2f13"/><stop offset="0.4663" stop-color="#d51b2d"/><stop offset="0.4955" stop-color="#cd0b46"/><stop offset="0.5247" stop-color="#c3005d"/><stop offset="0.5539" stop-color="#bb0073"/><stop offset="0.6172" stop-color="#ab009d"/><stop offset="0.6805" stop-color="#9c00c0"/><stop offset="0.7439" stop-color="#8900d8"/><stop offset="0.8072" stop-color="#7600e2"/><stop offset="0.8705" stop-color="#6700dd"/><stop offset="0.9338" stop-color="#5b00d4"/><stop offset="0.9971" stop-color="#5100c9"/><stop offset="1.0000" stop-color="#5100c9"/></linearGradient>
<linearGradient id="gb51" x1="0" x2="1" y1="0" y2="0"><stop offset="0.0000" stop-color="#ffd000"/><stop offset="0.1157" stop-color="#ffd000"/><stop offset="0.1449" stop-color="#ffca00"/><stop offset="0.1741" stop-color="#ffc100"/><stop offset="0.2033" stop-color="#ffb600"/><stop offset="0.2325" stop-color="#ffa900"/><stop offset="0.2617" stop-color="#ff9c00"/><stop offset="0.2910" stop-color="#ff8f00"/><stop offset="0.3202" stop-color="#ff8100"/><stop offset="0.3494" stop-color="#fe7100"/><stop offset="0.3786" stop-color="#f96000"/><stop offset="0.4078" stop-color="#ee4b01"/><stop offset="0.4371" stop-color="#e43708"/><stop offset="0.4663" stop-color="#d92323"/><stop offset="0.4955" stop-color="#d1113b"/><stop offset="0.5247" stop-color="#c70552"/><stop offset="0.5539" stop-color="#bf0068"/><stop offset="0.6172" stop-color="#af0092"/><stop offset="0.6805" stop-color="#a100b7"/><stop offset="0.7439" stop-color="#9000d4"/><stop offset="0.8072" stop-color="#7c00e2"/><stop offset="0.8705" stop-color="#6c00df"/><stop offset="0.9338" stop-color="#5f00d9"/><stop offset="0.9971" stop-color="#5500ce"/><stop offset="1.0000" stop-color="#5500cd"/></linearGradient>
<linearGradient id="gb52" x1="0" x2="1" y1="0" y2="0"><stop offset="0.0000" stop-color="#ffd200"/><stop offset="0.1157" stop-color="#ffd200"/><stop offset="0.1449" stop-color="#ffcd00"/><stop offset="0.1741" stop-color="#ffc400"/><stop offset="0.2033" stop-color="#ffb900"/><stop offset="0.2325" stop-color="#ffad00"/><stop offset="0.2617" stop-color="#ffa000"/><stop offset="0.2910" stop-color="#ff9300"/><stop offset="0.3202" stop-color="#ff8600"/><stop offset="0.3494" stop-color="#ff7600"/><stop offset="0.3786" stop-color="#fc6700"/><stop offset="0.4078" stop-color="#f25300"/><stop offset="0.4371" stop-color="#e83f04"/><stop offset="0.4663" stop-color="#dd2b18"/><stop offset="0.4955" stop-color="#d41931"/><stop offset="0.5247" stop-color="#cc0a48"/><stop offset="0.5539" stop-color="#c3005e"/><stop offset="0.6172" stop-color="#b20089"/><stop offset="0.6805" stop-color="#a500ae"/><stop offset="0.7439" stop-color="#9500cd"/><stop offset="0.8072" stop-color="#8200dd"/><stop offset="0.8705" stop-color="#7100e0"/><stop offset="0.9338" stop-color="#6400dd"/><stop offset="0.9971" stop-color="#5900d2"/><stop offset="1.0000" stop-color="#5900d2"/></linearGradient>
<linearGradient id="gb53" x1="0" x2="1" y1="0" y2="0"><stop offset="0.0000" stop-color="#ffd500"/><stop offset="0.1157" stop-color="#ffd500"/><stop offset="0.1449" stop-color="#ffd000"/><stop offset="0.1741" stop-color="#ffc800"/><stop offset="0.2033" stop-color="#ffbd00"/><stop offset="0.2325" stop-color="#ffb100"/><stop offset="0.2617" stop-color="#ffa400"/><stop offset="0.2910" stop-color="#ff9700"/><stop offset="0.3202" stop-color="#ff8a00"/><stop offset="0.3494" stop-color="#ff7b00"/><stop offset="0.3786" stop-color="#fd6c00"/><stop offset="0.4078" stop-color="#f65a00"/><stop offset="0.4371" stop-color="#ec4602"/><stop offset="0.4663" stop-color="#e2330d"/><stop offset="0.4955" stop-color="#d82126"/><stop offset="0.5247" stop-color="#d0103d"/><stop offset="0.5539" stop-color="#c70553"/><stop offset="0.6172" stop-color="#b6007f"/><stop offset="0.6805" stop-color="#a800a4"/><stop offset="0.7439" stop-color="#9a00c4"/><stop offset="0.8072" stop-color="#8800d9"/><stop offset="0.8705" stop-color="#7700e2"/><stop offset="0.9338" stop-color="#6900de"/><stop offset="0.9971" stop-color="#5e00d7"/><stop offset="1.0000" stop-color="#5d00d7"/></linearGradient>
<linearGradient id="gb54" x1="0" x2="1" y1="0" y2="0"><stop offset="0.0000" stop-color="#ffd700"/><stop offset="0.1157" stop-color="#ffd700"/><stop offset="0.1449" stop-color="#ffd300"/><stop offset="0.1741" stop-color="#ffca00"/><stop offset="0.2033" stop-color="#ffbf00"/><stop offset="0.2325" stop-color="#ffb300"/><stop offset="0.2617" stop-color="#ffa700"/><stop offset="0.2910" stop-color="#ff9a00"/><stop offset="0.3202" stop-color="#ff8c00"/><stop offset="0.3494" stop-color="#ff7e00"/><stop offset="0.3786" stop-color="#fe6f00"/><stop offset="0.4078" stop-color="#f85e00"/><stop offset="0.4371" stop-color="#ee4a01"/><stop offset="0.4663" stop-color="#e43708"/><stop offset="0.4955" stop-color="#da2421"/><stop offset="0.5247" stop-color="#d11339"/><stop offset="0.5539" stop-color="#c9074f"/><stop offset="0.6172" stop-color="#b8007b"/><stop offset="0.6805" stop-color="#aa00a0"/><stop offset="0.7439" stop-color="#9c00c1"/><stop offset="0.8072" stop-color="#8b00d7"/><stop offset="0.8705" stop-color="#7900e3"/><stop offset="0.9338" stop-color="#6b00df"/><stop offset="0.9971" stop-color="#6000d9"/><stop offset="1.0000" stop-color="#5f00d9"/></linearGradient><linearGradient id="cbar" x1="0" x2="0" y1="0" y2="1"><stop offset="0.000" stop-color="#ffffff"/><stop offset="0.050" stop-color="#ffffbf"/><stop offset="0.100" stop-color="#ffff62"/><stop offset="0.150" stop-color="#fff111"/><stop offset="0.200" stop-color="#ffdb00"/><stop offset="0.250" stop-color="#ffc500"/><stop offset="0.300" stop-color="#ffaf00"/><stop offset="0.350" stop-color="#ff9a00"/><stop offset="0.400" stop-color="#ff8500"/><stop offset="0.450" stop-color="#fd6c00"/><stop offset="0.500" stop-color="#f04e00"/><stop offset="0.550" stop-color="#df2d15"/><stop offset="0.600" stop-color="#ce0d41"/><stop offset="0.650" stop-color="#bd006d"/><stop offset="0.700" stop-color="#ac0098"/><stop offset="0.750" stop-color="#9900c5"/><stop offset="0.800" stop-color="#7900e3"/><stop offset="0.850" stop-color="#5400cc"/><stop offset="0.900" stop-color="#2f00a3"/><stop offset="0.950" stop-color="#0b006f"/><stop offset="1.000" stop-color="#000039"/></linearGradient><filter id="grain" x="0" y="0" width="100%" height="100%"><feTurbulence type="fractalNoise" baseFrequency="0.9" numOctaves="1" seed="3" result="n"/><feColorMatrix in="n" type="matrix" values="0 0 0 0 0  0 0 0 0 0  0 0 0 0 0  0 0 0 0.9 -0.35" result="a"/><feComposite in="a" in2="SourceGraphic" operator="in"/></filter></defs>
<defs><filter id="grn" x="0" y="0" width="100%" height="100%" color-interpolation-filters="sRGB"><feTurbulence type="fractalNoise" baseFrequency="0.35 0.8" numOctaves="2" seed="7" result="nz"/><feColorMatrix in="nz" type="matrix" values="0 0 0 0 0  0 0 0 0 0  0 0 0 0 0  0.33 0.33 0.33 0 0" result="g"/><feColorMatrix in="nz" type="matrix" values="0.33 0.33 0.33 0 0  0.33 0.33 0.33 0 0  0.33 0.33 0.33 0 0  0 0 0 0 1" result="gg"/><feComposite in="SourceGraphic" in2="gg" operator="arithmetic" k1="0.9" k2="0.58" k3="0" k4="0"/></filter></defs>
<rect x="103.3" y="285.2" width="554.7" height="34.10000000000002" fill="#000"/>
<g filter="url(#grn)">
<rect x="103.3" y="285.20" width="554.7" height="0.90" fill="#000000"/>
<rect x="103.3" y="286.05" width="554.7" height="0.90" fill="#000000"/>
<rect x="103.3" y="286.90" width="554.7" height="0.90" fill="#000000"/>
<rect x="103.3" y="287.75" width="554.7" height="0.90" fill="#000000"/>
<rect x="103.3" y="288.60" width="554.7" height="0.90" fill="#000000"/>
<rect x="103.3" y="289.45" width="554.7" height="0.90" fill="#000000"/>
<rect x="103.3" y="290.30" width="554.7" height="0.90" fill="#000000"/>
<rect x="103.3" y="291.15" width="554.7" height="0.90" fill="#000000"/>
<rect x="103.3" y="292.00" width="554.7" height="0.90" fill="#000000"/>
<rect x="103.3" y="292.85" width="554.7" height="0.90" fill="#000000"/>
<rect x="103.3" y="293.70" width="554.7" height="0.90" fill="#000000"/>
<rect x="103.3" y="294.55" width="554.7" height="0.90" fill="#000000"/>
<rect x="103.3" y="295.40" width="554.7" height="0.90" fill="url(#ga12)"/>
<rect x="103.3" y="296.25" width="554.7" height="0.90" fill="url(#ga13)"/>
<rect x="103.3" y="297.10" width="554.7" height="0.90" fill="url(#ga14)"/>
<rect x="103.3" y="297.95" width="554.7" height="0.90" fill="url(#ga15)"/>
<rect x="103.3" y="298.80" width="554.7" height="0.90" fill="url(#ga16)"/>
<rect x="103.3" y="299.65" width="554.7" height="0.90" fill="url(#ga17)"/>
<rect x="103.3" y="300.50" width="554.7" height="0.90" fill="url(#ga18)"/>
<rect x="103.3" y="301.35" width="554.7" height="0.90" fill="url(#ga19)"/>
<rect x="103.3" y="302.20" width="554.7" height="0.90" fill="url(#ga20)"/>
<rect x="103.3" y="303.05" width="554.7" height="0.90" fill="url(#ga21)"/>
<rect x="103.3" y="303.90" width="554.7" height="0.90" fill="url(#ga22)"/>
<rect x="103.3" y="304.75" width="554.7" height="0.90" fill="url(#ga23)"/>
<rect x="103.3" y="305.60" width="554.7" height="0.90" fill="url(#ga24)"/>
<rect x="103.3" y="306.45" width="554.7" height="0.90" fill="url(#ga25)"/>
<rect x="103.3" y="307.30" width="554.7" height="0.90" fill="url(#ga26)"/>
<rect x="103.3" y="308.15" width="554.7" height="0.90" fill="url(#ga27)"/>
<rect x="103.3" y="309.00" width="554.7" height="0.90" fill="url(#ga28)"/>
<rect x="103.3" y="309.85" width="554.7" height="0.90" fill="url(#ga29)"/>
<rect x="103.3" y="310.70" width="554.7" height="0.90" fill="url(#ga30)"/>
<rect x="103.3" y="311.55" width="554.7" height="0.90" fill="url(#ga31)"/>
<rect x="103.3" y="312.40" width="554.7" height="0.90" fill="url(#ga32)"/>
<rect x="103.3" y="313.25" width="554.7" height="0.90" fill="url(#ga33)"/>
<rect x="103.3" y="314.10" width="554.7" height="0.90" fill="url(#ga34)"/>
<rect x="103.3" y="314.95" width="554.7" height="0.90" fill="#000000"/>
<rect x="103.3" y="315.80" width="554.7" height="0.90" fill="#000000"/>
<rect x="103.3" y="316.65" width="554.7" height="0.90" fill="#000000"/>
<rect x="103.3" y="317.50" width="554.7" height="0.90" fill="#000000"/>
<rect x="103.3" y="318.35" width="554.7" height="0.90" fill="#000000"/>
<rect x="103.3" y="319.20" width="554.7" height="0.15" fill="#000000"/>
</g>
<rect x="204.3" y="365.2" width="410.7" height="54.60000000000002" fill="#000"/>
<g filter="url(#grn)">
<rect x="204.3" y="365.20" width="410.7" height="1.05" fill="#000000"/>
<rect x="204.3" y="366.20" width="410.7" height="1.05" fill="#000000"/>
<rect x="204.3" y="367.20" width="410.7" height="1.05" fill="#000000"/>
<rect x="204.3" y="368.20" width="410.7" height="1.05" fill="#000000"/>
<rect x="204.3" y="369.20" width="410.7" height="1.05" fill="#000000"/>
<rect x="204.3" y="370.20" width="410.7" height="1.05" fill="#000000"/>
<rect x="204.3" y="371.20" width="410.7" height="1.05" fill="#000000"/>
<rect x="204.3" y="372.20" width="410.7" height="1.05" fill="#000000"/>
<rect x="204.3" y="373.20" width="410.7" height="1.05" fill="#000000"/>
<rect x="204.3" y="374.20" width="410.7" height="1.05" fill="#000000"/>
<rect x="204.3" y="375.20" width="410.7" height="1.05" fill="#000000"/>
<rect x="204.3" y="376.20" width="410.7" height="1.05" fill="#000000"/>
<rect x="204.3" y="377.20" width="410.7" height="1.05" fill="#000000"/>
<rect x="204.3" y="378.20" width="410.7" height="1.05" fill="#000000"/>
<rect x="204.3" y="379.20" width="410.7" height="1.05" fill="#000000"/>
<rect x="204.3" y="380.20" width="410.7" height="1.05" fill="#000000"/>
<rect x="204.3" y="381.20" width="410.7" height="1.05" fill="#000000"/>
<rect x="204.3" y="382.20" width="410.7" height="1.05" fill="#000000"/>
<rect x="204.3" y="383.20" width="410.7" height="1.05" fill="#000000"/>
<rect x="204.3" y="384.20" width="410.7" height="1.05" fill="#000000"/>
<rect x="204.3" y="385.20" width="410.7" height="1.05" fill="#000000"/>
<rect x="204.3" y="386.20" width="410.7" height="1.05" fill="#000000"/>
<rect x="204.3" y="387.20" width="410.7" height="1.05" fill="#000000"/>
<rect x="204.3" y="388.20" width="410.7" height="1.05" fill="#000000"/>
<rect x="204.3" y="389.20" width="410.7" height="1.05" fill="#000000"/>
<rect x="204.3" y="390.20" width="410.7" height="1.05" fill="#000000"/>
<rect x="204.3" y="391.20" width="410.7" height="1.05" fill="url(#gb26)"/>
<rect x="204.3" y="392.20" width="410.7" height="1.05" fill="url(#gb27)"/>
<rect x="204.3" y="393.20" width="410.7" height="1.05" fill="url(#gb28)"/>
<rect x="204.3" y="394.20" width="410.7" height="1.05" fill="url(#gb29)"/>
<rect x="204.3" y="395.20" width="410.7" height="1.05" fill="url(#gb30)"/>
<rect x="204.3" y="396.20" width="410.7" height="1.05" fill="url(#gb31)"/>
<rect x="204.3" y="397.20" width="410.7" height="1.05" fill="url(#gb32)"/>
<rect x="204.3" y="398.20" width="410.7" height="1.05" fill="url(#gb33)"/>
<rect x="204.3" y="399.20" width="410.7" height="1.05" fill="url(#gb34)"/>
<rect x="204.3" y="400.20" width="410.7" height="1.05" fill="url(#gb35)"/>
<rect x="204.3" y="401.20" width="410.7" height="1.05" fill="url(#gb36)"/>
<rect x="204.3" y="402.20" width="410.7" height="1.05" fill="url(#gb37)"/>
<rect x="204.3" y="403.20" width="410.7" height="1.05" fill="url(#gb38)"/>
<rect x="204.3" y="404.20" width="410.7" height="1.05" fill="url(#gb39)"/>
<rect x="204.3" y="405.20" width="410.7" height="1.05" fill="url(#gb40)"/>
<rect x="204.3" y="406.20" width="410.7" height="1.05" fill="url(#gb41)"/>
<rect x="204.3" y="407.20" width="410.7" height="1.05" fill="url(#gb42)"/>
<rect x="204.3" y="408.20" width="410.7" height="1.05" fill="url(#gb43)"/>
<rect x="204.3" y="409.20" width="410.7" height="1.05" fill="url(#gb44)"/>
<rect x="204.3" y="410.20" width="410.7" height="1.05" fill="url(#gb45)"/>
<rect x="204.3" y="411.20" width="410.7" height="1.05" fill="url(#gb46)"/>
<rect x="204.3" y="412.20" width="410.7" height="1.05" fill="url(#gb47)"/>
<rect x="204.3" y="413.20" width="410.7" height="1.05" fill="url(#gb48)"/>
<rect x="204.3" y="414.20" width="410.7" height="1.05" fill="url(#gb49)"/>
<rect x="204.3" y="415.20" width="410.7" height="1.05" fill="url(#gb50)"/>
<rect x="204.3" y="416.20" width="410.7" height="1.05" fill="url(#gb51)"/>
<rect x="204.3" y="417.20" width="410.7" height="1.05" fill="url(#gb52)"/>
<rect x="204.3" y="418.20" width="410.7" height="1.05" fill="url(#gb53)"/>
<rect x="204.3" y="419.20" width="410.7" height="0.65" fill="url(#gb54)"/>
</g>
<rect x="230.0" y="285.2" width="1.2" height="34.10000000000002" fill="#b040c0"/>
<rect x="250.2" y="365.2" width="2" height="28.80000000000001" fill="#c040c8"/>
<rect x="250.2" y="394" width="2" height="25.80000000000001" fill="#c83a1c" opacity="0.85"/>
<defs><linearGradient id="mlt" x1="0" x2="1" y1="0" y2="0"><stop offset="0" stop-color="#ff7060" stop-opacity="0.3"/><stop offset="0.15" stop-color="#ff8080" stop-opacity="0.95"/><stop offset="1" stop-color="#ff8a80" stop-opacity="1"/></linearGradient><linearGradient id="mlb" x1="0" x2="1" y1="0" y2="0"><stop offset="0" stop-color="#ff9040" stop-opacity="0"/><stop offset="0.2" stop-color="#ff9a4a" stop-opacity="0.9"/><stop offset="1" stop-color="#ffa050" stop-opacity="1"/></linearGradient><filter id="mlf" x="-1%" y="-100%" width="102%" height="300%"><feGaussianBlur stdDeviation="0.5"/></filter></defs>
<g filter="url(#mlf)"><rect x="231.2" y="294.9" width="426.79999999999995" height="0.6" fill="#c02040" opacity="0.7"/><rect x="231.2" y="297.1" width="426.79999999999995" height="0.6" fill="#a01850" opacity="0.6"/><rect x="231.2" y="295.4" width="426.79999999999995" height="1.8" fill="url(#mlt)"/><rect x="231.2" y="312.1" width="426.79999999999995" height="0.6" fill="#a01850" opacity="0.6"/><rect x="231.2" y="314.3" width="426.79999999999995" height="0.6" fill="#c02020" opacity="0.7"/><rect x="231.2" y="312.6" width="426.79999999999995" height="1.8" fill="url(#mlb)"/></g>
<rect x="213.6" y="286" width="149" height="18" fill="none" stroke="#fff" stroke-width="1.3" stroke-dasharray="3 2.6" opacity="0.9"/>
<text x="363.05" y="302.00" font-size="12.5" font-weight="bold" font-style="italic" fill="#ffe040" >b</text>
<text x="201.89" y="247.20" font-size="13.5" font-weight="bold" >UV-flash</text>
<rect x="229.8" y="252" width="2.2" height="14" fill="#22e0e0"/>
<path d="M225.3,264.5 L236.2,264.5 L230.8,281.5 Z" fill="#22e0e0"/>
<text x="2.72" y="256.40" font-size="43.8" font-weight="bold" font-style="italic" >B</text>
<text x="34.84" y="257.50" font-size="25.8" font-weight="bold" font-style="italic" >a</text>
<rect x="51.8" y="295.9" width="8.6" height="34.7" fill="url(#cbar)"/>
<line x1="49" y1="296" x2="49" y2="327.5" stroke="#111" stroke-width="1"/>
<path d="M46.3,297.5 L49,292.8 L51.7,297.5 Z" fill="#111"/>
<path d="M46.3,326 L49,330.6 L51.7,326 Z" fill="#111"/>
<line x1="45.4" y1="311.4" x2="52" y2="311.4" stroke="#111" stroke-width="1"/>
<text x="40" y="298.6" font-size="9.5" font-weight="bold">+</text>
<text x="41.3" y="332.6" font-size="9.5" font-weight="bold">-</text>
<text transform="translate(89.2,328) rotate(-90)" font-size="14">5 &#181;m</text>
<rect x="94" y="309.9" width="2.1" height="9.3" fill="#000"/>
<rect x="107.8" y="327.6" width="34.9" height="2.2" fill="#000"/>
<text x="109.96" y="343.80" font-size="13.6" >0.5 s</text>
<text x="111.27" y="373.70" font-size="26.5" font-weight="bold" font-style="italic" >b</text>
<text transform="translate(129.4,409.7) rotate(-90)" font-size="14">5 &#181;m</text>
<rect x="134.9" y="377.1" width="2.4" height="31.1" fill="#000"/>
<rect x="167.5" y="400.8" width="20" height="2" fill="#e8141e"/>
<path d="M186,395.8 L201.5,401.8 L186,407.8 Z" fill="#e8141e"/>
<rect x="167.5" y="415.8" width="20" height="2" fill="#22e822"/>
<path d="M186,410.8 L201.5,416.8 L186,422.8 Z" fill="#22e822"/>
<rect x="228" y="424.6" width="98" height="2.2" fill="#000"/>
<text x="262.04" y="441.40" font-size="14" >0.5 s</text><polyline points="103.3,590.9 104.6,593.3 105.9,596.2 107.2,594.1 108.5,591.3 109.8,590.0 111.1,588.4 112.4,588.2 113.7,589.4 115.0,589.9 116.3,590.1 117.6,587.8 118.9,584.7 120.2,584.1 121.5,584.3 122.8,584.7 124.1,587.1 125.4,589.3 126.7,590.0 128.0,588.7 129.3,589.1 130.6,590.7 131.9,590.6 133.2,589.9 134.5,590.9 135.8,590.9 137.1,590.9 138.4,589.4 139.7,587.4 141.0,587.1 142.3,590.2 143.6,593.1 144.9,592.5 146.2,593.3 147.5,593.2 148.8,591.7 150.1,592.7 151.4,592.7 152.7,590.2 154.0,589.7 155.3,591.7 156.6,593.4 157.9,594.1 159.2,591.3 160.5,588.0 161.8,587.3 163.1,588.0 164.4,590.3 165.7,590.8 167.0,588.9 168.3,588.5 169.6,590.0 170.9,590.6 172.2,590.4 173.5,588.5 174.8,587.5 176.1,587.5 177.4,590.1 178.7,594.9 180.0,594.6 181.3,591.0 182.6,589.1 183.9,588.4 185.2,591.1 186.5,592.0 187.8,589.9 189.1,589.1 190.4,590.0 191.7,590.0 193.0,588.5 194.3,587.4 195.6,587.8 196.9,589.1 198.2,590.6 199.5,590.3 200.8,588.4 202.1,586.3 203.4,586.7 204.7,587.6 206.0,587.9 207.3,588.2 208.6,587.4 209.9,587.6 211.2,590.5 212.5,591.5 213.8,590.1 215.1,589.2 216.4,587.1 217.7,586.5 219.0,589.3 220.3,591.6 221.6,589.4 222.9,587.1 224.2,587.8 225.5,587.8 226.8,587.8 228.1,587.3 229.4,584.6 230.7,583.4 232.0,586.0 233.3,589.8 234.6,589.9 235.9,588.2 237.2,588.7 238.5,591.2 239.8,591.8 241.1,590.4 242.4,592.1 243.7,594.6 245.0,592.9 246.3,590.5 247.6,590.3 248.9,590.9 250.2,591.3 251.5,590.5 252.8,589.2 254.1,589.3 255.4,589.5 256.7,589.2 258.0,590.4 259.3,592.8 260.6,597.1 261.9,598.9 263.2,598.1 264.5,599.4 265.8,600.6 267.1,601.0 268.4,602.1 269.7,604.2 271.0,605.3 272.3,605.2 273.6,606.8 274.9,606.8 276.2,606.6 277.5,609.0 278.8,611.5 280.1,612.3 281.4,612.7 282.7,612.8 284.0,614.0 285.3,615.7 286.6,616.4 287.9,618.3 289.2,618.9 290.5,618.3 291.8,618.5 293.1,619.3 294.4,620.4 295.7,621.0 297.0,619.8 298.3,617.4 299.6,618.3 300.9,621.9 302.2,623.3 303.5,623.8 304.8,624.6 306.1,626.3 307.4,629.2 308.7,629.2 310.0,627.8 311.3,628.3 312.6,631.4 313.9,634.1 315.2,635.2 316.5,633.7 317.8,630.6 319.1,630.8 320.4,633.3 321.7,633.2 323.0,633.2 324.3,634.4 325.6,635.8 326.9,635.5 328.2,633.5 329.5,632.3 330.8,633.0 332.1,635.5 333.4,635.7 334.7,635.5 336.0,637.9 337.3,638.0 338.6,636.5 339.9,636.7 341.2,637.8 342.5,639.3 343.8,639.8 345.1,639.4 346.4,638.2 347.7,636.4 349.0,638.9 350.3,642.9 351.6,644.6 352.9,643.1 354.2,639.7 355.5,638.7 356.8,642.6 358.1,646.5 359.4,644.9 360.7,641.2 362.0,640.1 363.3,642.1 364.6,643.7 365.9,644.6 367.2,643.0 368.5,640.9 369.8,643.2 371.1,645.3 372.4,643.7 373.7,641.6 375.0,641.5 376.3,644.6 377.6,649.7 378.9,650.3 380.2,648.3 381.5,647.5 382.8,645.5 384.1,644.4 385.4,645.0 386.7,647.0 388.0,650.3 389.3,652.4 390.6,650.9 391.9,648.8 393.2,648.0 394.5,648.0 395.8,647.8 397.1,647.4 398.4,648.6 399.7,650.2 401.0,650.0 402.3,648.7 403.6,649.1 404.9,648.6 406.2,645.9 407.5,644.5 408.8,647.0 410.1,650.1 411.4,652.0 412.7,653.9 414.0,652.1 415.3,649.4 416.6,649.6 417.9,650.9 419.2,651.1 420.5,651.2 421.8,653.9 423.1,656.8 424.4,655.0 425.7,651.3 427.0,648.2 428.3,647.1 429.6,648.7 430.9,649.7 432.2,649.9 433.5,650.6 434.8,652.6 436.1,652.6 437.4,649.7 438.7,648.7 440.0,651.6 441.3,654.1 442.6,653.6 443.9,651.3 445.2,649.0 446.5,649.7 447.8,652.0 449.1,652.7 450.4,652.7 451.7,653.5 453.0,653.6 454.3,651.8 455.6,649.3 456.9,648.8 458.2,650.5 459.5,651.5 460.8,652.4 462.1,653.0 463.4,651.7 464.7,651.5 466.0,651.6 467.3,648.9 468.6,647.2 469.9,649.6 471.2,652.0 472.5,651.3 473.8,649.7 475.1,649.5 476.4,650.7 477.7,649.4 479.0,649.8 480.3,653.0 481.6,655.5 482.9,653.5 484.2,650.1 485.5,648.7 486.8,649.1 488.1,649.2 489.4,650.4 490.7,652.9 492.0,653.8 493.3,652.9 494.6,652.6 495.9,652.2 497.2,653.7 498.5,652.7 499.8,651.3 501.1,651.7 502.4,652.5 503.7,652.4 505.0,651.4 506.3,650.7 507.6,651.1 508.9,651.7 510.2,651.0 511.5,649.8 512.8,649.7 514.1,651.8 515.4,652.7 516.7,652.6 518.0,653.8 519.3,653.5 520.6,651.8 521.9,651.0 523.2,654.0 524.5,657.3 525.8,657.1 527.1,654.2 528.4,653.5 529.7,654.6 531.0,654.1 532.3,652.9 533.6,653.7 534.9,655.3 536.2,655.2 537.5,654.5 538.8,653.7 540.1,651.9 541.4,652.0 542.7,652.0 544.0,653.1 545.3,655.9 546.6,657.4 547.9,656.2 549.2,655.9 550.5,656.7 551.8,654.0 553.1,649.8 554.4,649.5 555.7,650.3 557.0,650.1 558.3,650.6 559.6,653.3 560.9,655.6 562.2,656.4 563.5,654.6 564.8,653.1 566.1,653.4 567.4,656.0 568.7,658.2 570.0,658.6 571.3,656.7 572.6,654.7 573.9,654.2 575.2,652.4 576.5,651.9 577.8,654.3 579.1,656.0 580.4,653.3 581.7,651.9 583.0,654.1 584.3,656.2 585.6,656.0 586.9,654.4 588.2,652.6 589.5,653.4 590.8,655.2 592.1,654.2 593.4,652.7 594.7,654.0 596.0,657.2 597.3,658.0 598.6,655.6 599.9,654.4 601.2,655.2 602.5,654.1 603.8,653.8 605.1,654.3 606.4,654.1 607.7,655.0 609.0,656.3 610.3,654.3 611.6,651.4 612.9,652.6 614.2,654.8 615.5,653.7 616.8,652.9 618.1,654.7 619.4,655.3 620.7,654.8 622.0,654.5 623.3,653.8 624.6,654.2 625.9,654.5 627.2,654.3 628.5,654.7 629.8,655.0 631.1,656.6 632.4,655.8 633.7,653.7 635.0,652.6 636.3,653.2 637.6,653.3 638.9,653.8 640.2,653.6 641.5,654.1 642.8,656.1 644.1,655.0 645.4,653.0 646.7,653.0 648.0,654.0 649.3,654.8 650.6,654.8 651.9,653.7 653.2,653.1 654.5,652.5 655.8,652.7 657.1,653.6 658.4,652.9" fill="none" stroke="#e61414" stroke-width="3.8" stroke-linejoin="round" stroke-linecap="round" />
<polyline points="103.3,587.6 104.6,589.9 105.9,591.0 107.2,588.2 108.5,586.5 109.8,588.6 111.1,591.1 112.4,590.8 113.7,587.1 115.0,586.7 116.3,590.1 117.6,592.6 118.9,594.0 120.2,592.9 121.5,590.5 122.8,591.5 124.1,593.9 125.4,590.5 126.7,586.9 128.0,586.6 129.3,588.6 130.6,589.4 131.9,588.9 133.2,589.4 134.5,590.7 135.8,592.2 137.1,592.3 138.4,589.4 139.7,586.8 141.0,587.8 142.3,586.8 143.6,586.4 144.9,586.2 146.2,587.3 147.5,588.4 148.8,592.4 150.1,596.1 151.4,593.3 152.7,590.2 154.0,587.5 155.3,588.4 156.6,590.3 157.9,590.3 159.2,590.2 160.5,589.1 161.8,588.1 163.1,589.1 164.4,590.1 165.7,592.0 167.0,590.9 168.3,590.7 169.6,591.0 170.9,591.0 172.2,590.2 173.5,591.0 174.8,591.5 176.1,592.6 177.4,592.0 178.7,589.9 180.0,589.0 181.3,590.9 182.6,592.6 183.9,593.0 185.2,591.0 186.5,590.9 187.8,591.3 189.1,590.8 190.4,590.3 191.7,589.4 193.0,587.5 194.3,586.6 195.6,588.4 196.9,591.7 198.2,594.1 199.5,594.1 200.8,593.5 202.1,592.9 203.4,592.0 204.7,591.6 206.0,593.0 207.3,593.4 208.6,590.2 209.9,590.0 211.2,593.0 212.5,592.9 213.8,592.6 215.1,591.4 216.4,590.8 217.7,595.0 219.0,595.5 220.3,592.6 221.6,591.4 222.9,589.6 224.2,587.9 225.5,588.9 226.8,591.2 228.1,592.7 229.4,592.2 230.7,591.7 232.0,591.7 233.3,590.2 234.6,591.5 235.9,591.9 237.2,588.3 238.5,585.0 239.8,586.3 241.1,589.6 242.4,592.0 243.7,592.1 245.0,589.2 246.3,589.3 247.6,590.2 248.9,587.6 250.2,585.9 251.5,591.1 252.8,595.4 254.1,592.9 255.4,588.6 256.7,587.3 258.0,589.7 259.3,591.9 260.6,587.3 261.9,583.3 263.2,582.2 264.5,579.7 265.8,577.5 267.1,571.5 268.4,568.7 269.7,570.7 271.0,571.3 272.3,567.7 273.6,561.5 274.9,554.9 276.2,553.5 277.5,553.5 278.8,553.8 280.1,554.3 281.4,553.2 282.7,552.7 284.0,550.2 285.3,547.5 286.6,547.2 287.9,547.5 289.2,546.1 290.5,542.0 291.8,538.6 293.1,538.4 294.4,543.2 295.7,543.2 297.0,537.4 298.3,532.5 299.6,530.6 300.9,532.6 302.2,535.8 303.5,537.6 304.8,532.4 306.1,524.8 307.4,522.7 308.7,527.8 310.0,526.3 311.3,521.7 312.6,521.5 313.9,524.4 315.2,531.9 316.5,530.4 317.8,524.5 319.1,518.4 320.4,513.7 321.7,514.1 323.0,514.3 324.3,514.4 325.6,511.0 326.9,513.2 328.2,519.6 329.5,519.3 330.8,512.0 332.1,509.9 333.4,514.6 334.7,514.7 336.0,509.9 337.3,507.6 338.6,506.6 339.9,505.8 341.2,508.5 342.5,513.3 343.8,515.4 345.1,515.3 346.4,510.7 347.7,506.4 349.0,504.2 350.3,503.3 351.6,500.5 352.9,500.8 354.2,507.2 355.5,511.3 356.8,511.2 358.1,509.8 359.4,506.0 360.7,502.6 362.0,502.2 363.3,500.5 364.6,497.0 365.9,494.5 367.2,495.9 368.5,499.9 369.8,501.5 371.1,502.3 372.4,504.7 373.7,504.2 375.0,504.1 376.3,503.0 377.6,497.1 378.9,494.5 380.2,498.1 381.5,500.0 382.8,502.5 384.1,502.9 385.4,502.7 386.7,499.2 388.0,494.7 389.3,496.3 390.6,495.5 391.9,494.3 393.2,496.3 394.5,499.9 395.8,501.5 397.1,498.6 398.4,492.5 399.7,489.7 401.0,488.9 402.3,493.3 403.6,496.1 404.9,495.0 406.2,495.9 407.5,497.6 408.8,497.3 410.1,493.2 411.4,491.3 412.7,494.3 414.0,499.9 415.3,499.8 416.6,496.4 417.9,495.3 419.2,495.2 420.5,494.7 421.8,493.2 423.1,491.1 424.4,489.5 425.7,492.7 427.0,497.8 428.3,497.2 429.6,494.4 430.9,493.2 432.2,493.6 433.5,493.4 434.8,492.2 436.1,493.0 437.4,492.7 438.7,490.0 440.0,488.2 441.3,487.6 442.6,489.1 443.9,490.2 445.2,486.7 446.5,487.8 447.8,489.2 449.1,490.1 450.4,493.1 451.7,495.3 453.0,493.6 454.3,491.1 455.6,490.2 456.9,491.9 458.2,493.3 459.5,490.2 460.8,486.4 462.1,485.0 463.4,485.1 464.7,487.7 466.0,492.9 467.3,493.6 468.6,493.3 469.9,494.3 471.2,492.6 472.5,493.5 473.8,492.0 475.1,486.0 476.4,484.0 477.7,487.7 479.0,493.6 480.3,494.1 481.6,491.0 482.9,491.8 484.2,490.5 485.5,488.7 486.8,488.1 488.1,486.6 489.4,483.9 490.7,484.1 492.0,486.8 493.3,493.5 494.6,500.4 495.9,500.2 497.2,491.4 498.5,485.3 499.8,486.2 501.1,490.0 502.4,495.2 503.7,493.7 505.0,491.0 506.3,492.6 507.6,490.8 508.9,486.2 510.2,486.6 511.5,488.8 512.8,490.1 514.1,490.3 515.4,489.7 516.7,489.5 518.0,488.0 519.3,489.2 520.6,493.6 521.9,493.4 523.2,490.0 524.5,486.5 525.8,488.6 527.1,490.3 528.4,489.1 529.7,491.0 531.0,490.8 532.3,490.7 533.6,490.7 534.9,492.1 536.2,493.3 537.5,492.6 538.8,492.7 540.1,488.8 541.4,487.5 542.7,489.1 544.0,487.6 545.3,489.1 546.6,493.1 547.9,492.1 549.2,487.9 550.5,491.8 551.8,496.9 553.1,495.3 554.4,490.3 555.7,487.6 557.0,486.7 558.3,485.9 559.6,487.3 560.9,488.8 562.2,490.7 563.5,492.3 564.8,489.0 566.1,487.0 567.4,489.1 568.7,487.5 570.0,487.1 571.3,488.0 572.6,487.2 573.9,486.6 575.2,490.5 576.5,494.3 577.8,491.0 579.1,490.6 580.4,493.6 581.7,494.4 583.0,493.8 584.3,490.4 585.6,484.6 586.9,485.2 588.2,489.5 589.5,492.9 590.8,494.5 592.1,492.5 593.4,489.9 594.7,489.3 596.0,489.6 597.3,490.9 598.6,491.2 599.9,488.5 601.2,486.1 602.5,487.7 603.8,493.0 605.1,495.6 606.4,495.1 607.7,494.1 609.0,492.7 610.3,490.9 611.6,489.3 612.9,486.4 614.2,486.0 615.5,487.1 616.8,488.6 618.1,487.6 619.4,488.1 620.7,490.8 622.0,491.1 623.3,486.7 624.6,485.5 625.9,487.3 627.2,486.3 628.5,486.8 629.8,486.1 631.1,484.2 632.4,483.2 633.7,486.0 635.0,485.7 636.3,487.1 637.6,492.9 638.9,496.3 640.2,498.1 641.5,492.3 642.8,487.3 644.1,488.7 645.4,491.0 646.7,489.2 648.0,488.4 649.3,487.1 650.6,484.6 651.9,484.4 653.2,483.2 654.5,483.2 655.8,487.3 657.1,488.6 658.4,486.9" fill="none" stroke="#1414e6" stroke-width="3.8" stroke-linejoin="round" stroke-linecap="round" />
<polyline points="103.3,586.3 104.6,586.9 105.9,587.9 107.2,586.5 108.5,584.7 109.8,585.2 111.1,587.6 112.4,587.6 113.7,585.9 115.0,583.7 116.3,583.1 117.6,585.2 118.9,586.7 120.2,588.8 121.5,590.4 122.8,589.3 124.1,589.0 125.4,589.7 126.7,589.0 128.0,587.4 129.3,585.5 130.6,584.5 131.9,585.8 133.2,589.7 134.5,590.9 135.8,589.0 137.1,588.3 138.4,590.6 139.7,593.9 141.0,593.1 142.3,591.0 143.6,591.3 144.9,591.1 146.2,589.4 147.5,589.9 148.8,590.7 150.1,590.7 151.4,591.7 152.7,591.9 154.0,590.2 155.3,589.6 156.6,590.6 157.9,590.9 159.2,592.1 160.5,593.3 161.8,591.5 163.1,588.5 164.4,587.3 165.7,589.0 167.0,590.6 168.3,591.2 169.6,591.5 170.9,591.3 172.2,590.6 173.5,590.2 174.8,589.6 176.1,587.5 177.4,586.1 178.7,586.3 180.0,586.5 181.3,585.6 182.6,586.6 183.9,588.3 185.2,588.5 186.5,587.8 187.8,588.3 189.1,588.7 190.4,588.4 191.7,588.5 193.0,587.8 194.3,586.7 195.6,587.0 196.9,588.9 198.2,591.2 199.5,589.6 200.8,586.9 202.1,586.2 203.4,588.1 204.7,589.4 206.0,588.1 207.3,585.8 208.6,585.2 209.9,586.2 211.2,587.5 212.5,588.0 213.8,589.7 215.1,590.2 216.4,587.5 217.7,587.0 219.0,587.4 220.3,587.5 221.6,589.4 222.9,590.0 224.2,590.5 225.5,591.7 226.8,591.5 228.1,588.7 229.4,586.4 230.7,585.5 232.0,587.4 233.3,590.2 234.6,588.4 235.9,587.0 237.2,590.2 238.5,591.6 239.8,589.0 241.1,586.8 242.4,584.7 243.7,584.0 245.0,585.4 246.3,585.5 247.6,586.1 248.9,588.2 250.2,589.7 251.5,590.3 252.8,590.6 254.1,589.1 255.4,589.4 256.7,589.4 258.0,592.6 259.3,593.8 260.6,592.4 261.9,590.0 263.2,589.5 264.5,592.2 265.8,594.3 267.1,595.4 268.4,592.7 269.7,590.8 271.0,593.4 272.3,594.4 273.6,594.1 274.9,595.1 276.2,596.1 277.5,595.6 278.8,594.8 280.1,596.9 281.4,598.6 282.7,599.4 284.0,601.3 285.3,600.6 286.6,600.4 287.9,603.6 289.2,604.6 290.5,605.0 291.8,607.3 293.1,609.7 294.4,608.6 295.7,606.9 297.0,608.0 298.3,610.7 299.6,611.8 300.9,612.0 302.2,613.0 303.5,613.2 304.8,614.5 306.1,616.2 307.4,617.1 308.7,617.5 310.0,617.7 311.3,617.8 312.6,618.9 313.9,618.9 315.2,617.2 316.5,617.8 317.8,620.8 319.1,622.8 320.4,624.3 321.7,625.6 323.0,625.5 324.3,625.2 325.6,626.0 326.9,627.6 328.2,630.5 329.5,631.0 330.8,629.1 332.1,628.5 333.4,629.5 334.7,629.6 336.0,629.9 337.3,631.7 338.6,633.2 339.9,634.2 341.2,635.5 342.5,638.0 343.8,636.8 345.1,631.5 346.4,629.5 347.7,633.1 349.0,637.8 350.3,638.8 351.6,637.9 352.9,636.7 354.2,635.8 355.5,636.2 356.8,636.7 358.1,637.8 359.4,638.0 360.7,637.9 362.0,639.3 363.3,642.2 364.6,642.8 365.9,640.5 367.2,641.0 368.5,642.9 369.8,645.1 371.1,644.7 372.4,642.7 373.7,643.9 375.0,646.9 376.3,646.8 377.6,643.5 378.9,642.4 380.2,645.0 381.5,647.7 382.8,648.0 384.1,647.1 385.4,647.0 386.7,646.7 388.0,645.5 389.3,645.1 390.6,646.9 391.9,648.2 393.2,648.3 394.5,647.1 395.8,646.9 397.1,648.8 398.4,650.7 399.7,649.9 401.0,646.6 402.3,646.0 403.6,648.4 404.9,649.3 406.2,646.9 407.5,647.1 408.8,646.7 410.1,647.0 411.4,649.2 412.7,647.5 414.0,643.1 415.3,643.9 416.6,647.1 417.9,649.1 419.2,649.9 420.5,648.4 421.8,646.5 423.1,646.0 424.4,648.7 425.7,650.6 427.0,650.9 428.3,651.2 429.6,652.4 430.9,652.7 432.2,654.5 433.5,654.2 434.8,650.9 436.1,649.4 437.4,647.9 438.7,647.5 440.0,650.1 441.3,652.6 442.6,654.5 443.9,653.2 445.2,649.5 446.5,649.6 447.8,652.0 449.1,652.9 450.4,651.5 451.7,650.0 453.0,650.5 454.3,650.6 455.6,648.2 456.9,646.6 458.2,647.3 459.5,650.0 460.8,652.5 462.1,652.7 463.4,654.0 464.7,655.7 466.0,655.3 467.3,653.3 468.6,651.8 469.9,651.1 471.2,650.5 472.5,650.8 473.8,652.6 475.1,653.0 476.4,650.9 477.7,649.9 479.0,651.1 480.3,652.6 481.6,653.5 482.9,652.9 484.2,651.0 485.5,649.1 486.8,649.4 488.1,650.3 489.4,651.0 490.7,652.1 492.0,651.8 493.3,651.5 494.6,653.6 495.9,656.7 497.2,657.3 498.5,654.2 499.8,652.8 501.1,654.8 502.4,655.5 503.7,653.7 505.0,653.1 506.3,653.3 507.6,653.1 508.9,651.6 510.2,650.9 511.5,651.1 512.8,650.6 514.1,649.7 515.4,650.3 516.7,652.6 518.0,656.0 519.3,655.8 520.6,652.7 521.9,651.6 523.2,652.0 524.5,651.5 525.8,652.0 527.1,654.2 528.4,655.7 529.7,655.9 531.0,655.6 532.3,653.9 533.6,652.2 534.9,651.3 536.2,650.9 537.5,652.3 538.8,655.0 540.1,655.2 541.4,653.4 542.7,652.0 544.0,651.7 545.3,652.7 546.6,652.6 547.9,651.7 549.2,650.4 550.5,649.5 551.8,651.5 553.1,653.5 554.4,651.6 555.7,650.1 557.0,650.1 558.3,649.5 559.6,648.7 560.9,648.6 562.2,649.3 563.5,649.1 564.8,646.9 566.1,646.7 567.4,648.5 568.7,650.3 570.0,651.1 571.3,651.8 572.6,652.1 573.9,652.3 575.2,652.0 576.5,653.0 577.8,651.4 579.1,650.1 580.4,650.3 581.7,652.6 583.0,655.4 584.3,655.0 585.6,653.5 586.9,654.9 588.2,656.5 589.5,655.2 590.8,653.5 592.1,653.3 593.4,652.0 594.7,649.7 596.0,650.6 597.3,653.9 598.6,656.5 599.9,655.7 601.2,652.6 602.5,649.8 603.8,649.2 605.1,649.6 606.4,651.0 607.7,652.4 609.0,653.6 610.3,653.5 611.6,653.4 612.9,654.2 614.2,654.3 615.5,652.7 616.8,652.4 618.1,655.4 619.4,657.5 620.7,654.1 622.0,651.5 623.3,651.3 624.6,650.8 625.9,651.3 627.2,650.8 628.5,650.9 629.8,651.2 631.1,651.5 632.4,652.9 633.7,654.2 635.0,655.1 636.3,654.5 637.6,653.6 638.9,654.4 640.2,654.7 641.5,654.2 642.8,654.4 644.1,654.6 645.4,654.1 646.7,654.9 648.0,655.1 649.3,655.7 650.6,657.6 651.9,657.4 653.2,652.9 654.5,651.1 655.8,652.9 657.1,653.1 658.4,652.8" fill="none" stroke="#1ee61e" stroke-width="3.8" stroke-linejoin="round" stroke-linecap="round" />
<line x1="234.7" y1="471" x2="234.7" y2="662.5" stroke="#111" stroke-width="1.5" stroke-dasharray="4.5 4.8"/>
<line x1="277.4" y1="471" x2="277.4" y2="662.5" stroke="#111" stroke-width="1.5" stroke-dasharray="4.5 4.8"/>
<line x1="299.5" y1="471" x2="299.5" y2="662.5" stroke="#111" stroke-width="1.5" stroke-dasharray="4.5 4.8"/>
<line x1="493" y1="471" x2="493" y2="662.5" stroke="#111" stroke-width="1.5" stroke-dasharray="4.5 4.8"/>
<text x="224.15" y="675.60" font-size="15" font-weight="bold" font-style="italic" >A1</text>
<text x="267.35" y="675.60" font-size="15" font-weight="bold" font-style="italic" >A2</text>
<text x="289.05" y="675.60" font-size="15" font-weight="bold" font-style="italic" >A3</text>
<text x="483.15" y="675.60" font-size="15" font-weight="bold" font-style="italic" >A4</text>
<text x="546.08" y="469.00" font-size="13.1" font-weight="bold" fill="#1e50d2" >plasma membrane</text>
<text x="616.79" y="643.40" font-size="12.8" font-weight="bold" fill="#dc1e28" >cytosol</text>
<text x="616.79" y="674.60" font-size="12.8" font-weight="bold" fill="#28dc28" >cytosol</text>
<text x="54.42" y="585.80" font-size="16" >&#916;F/F</text>
<text x="89.10" y="591.40" font-size="12.5" >0</text>
<text x="71.22" y="609.80" font-size="14.5" >0.2</text>
<rect x="93.1" y="594.4" width="2.1" height="21.1" fill="#000"/>
<rect x="108.4" y="618.3" width="32.6" height="2" fill="#000"/>
<text x="109.44" y="633.80" font-size="14" >0.5 s</text>
<path d="M253.5,672.4 L248,688.4 L259.2,688.4 Z" fill="#22e0e0"/>
<rect x="252.4" y="687" width="2.2" height="14.3" fill="#22e0e0"/>
<text x="225.50" y="714.30" font-size="13.4" font-weight="bold" >UV-flash</text>
<text x="0.63" y="505.20" font-size="41.4" font-weight="bold" font-style="italic" >C</text><polyline points="94.5,755.4 96.1,755.7 97.7,756.4 99.3,757.1 100.9,757.5 102.5,757.4 104.1,756.8 105.7,755.9 107.3,754.7 108.9,753.7 110.5,753.2 112.1,753.3 113.7,753.9 115.3,754.4 116.9,754.6 118.5,756.5 120.1,759.5 121.7,763.2 123.3,767.1 124.9,772.9 126.5,778.4 128.1,782.8 129.7,786.5 131.3,790.4 132.9,795.1 134.5,800.0 136.1,804.6 137.7,808.5 139.3,812.0 140.9,815.3 142.5,818.8 144.1,822.5 145.7,826.2 147.3,829.5 148.9,832.5 150.5,835.9 152.1,840.2 153.7,845.1 155.3,849.9 156.9,854.5 158.5,859.2 160.1,864.2 161.7,868.9 163.3,872.6 164.9,875.2 166.5,876.8 168.1,877.9 169.7,878.9 171.3,880.1 172.9,881.7 174.5,883.8 176.1,886.5 177.7,889.4 179.3,892.2 180.9,894.6 182.5,896.6 184.1,898.5 185.7,900.3 187.3,901.9 188.9,903.5 190.5,905.4 192.1,907.8 193.7,910.2 195.3,912.0 196.9,913.0 198.5,913.5 200.1,914.0 201.7,914.6 203.3,914.8 204.9,914.4 206.5,913.5 208.1,912.8 209.7,912.9 211.3,913.6 212.9,914.7 214.5,916.5 216.1,919.0 217.7,922.0 219.3,925.0 220.9,927.1 222.5,927.9 224.1,927.3 225.7,925.7 227.3,924.0 228.9,922.7 230.5,921.9 232.1,921.1 233.7,919.8 235.3,918.1 236.9,916.9 238.5,916.9 240.1,918.1 241.7,919.8 243.3,921.2 244.9,921.7 246.5,921.1 248.1,919.2 249.7,916.4 251.3,913.8 252.9,912.1 254.5,911.7 256.1,912.1 257.7,912.7 259.3,913.3 260.9,913.9 262.5,914.6 264.1,915.1 265.7,915.3 267.3,915.8 268.9,917.2 270.5,919.4 272.1,921.7 273.7,923.7 275.3,925.2 276.9,926.2 278.5,927.0 280.1,927.4 281.7,927.9 283.3,928.5 284.9,929.8 286.5,931.5 288.1,933.4 289.7,934.6 291.3,934.8 292.9,933.8 294.5,932.2 296.1,930.6 297.7,929.5 299.3,928.7 300.9,928.1 302.5,927.4 304.1,926.5 305.7,925.5 307.3,924.8 308.9,924.9 310.5,925.7 312.1,926.8 313.7,927.8 315.3,928.8 316.9,930.1 318.5,931.3 320.1,932.3 321.7,932.8 323.3,932.8 324.9,932.2 326.5,930.9 328.1,928.8 329.7,926.2 331.3,923.8 332.9,922.6 334.5,922.9 336.1,923.8 337.7,924.2 339.3,923.5 340.9,922.7 342.5,922.7 344.1,924.1 345.7,926.4 347.3,928.7 348.9,929.9 350.5,930.2 352.1,930.1 353.7,930.1" fill="none" stroke="#33e033" stroke-width="1.3" stroke-linejoin="round" stroke-linecap="round" />
<polyline points="94.5,756.0 96.1,755.8 97.7,755.8 99.3,756.0 100.9,756.2 102.5,756.0 104.1,755.5 105.7,754.8 107.3,753.9 108.9,753.1 110.5,752.4 112.1,752.2 113.7,752.3 115.3,752.8 116.9,754.3 118.5,757.3 120.1,760.7 121.7,763.1 123.3,766.9 124.9,770.6 126.5,774.2 128.1,777.6 129.7,780.6 131.3,783.3 132.9,786.6 134.5,790.9 136.1,795.9 137.7,800.9 139.3,805.2 140.9,808.9 142.5,811.9 144.1,814.5 145.7,816.8 147.3,819.2 148.9,822.1 150.5,825.3 152.1,828.2 153.7,830.6 155.3,832.6 156.9,834.8 158.5,837.6 160.1,840.9 161.7,844.3 163.3,847.2 164.9,849.5 166.5,851.8 168.1,854.4 169.7,858.0 171.3,862.5 172.9,867.4 174.5,871.7 176.1,874.9 177.7,876.6 179.3,877.2 180.9,877.5 182.5,878.3 184.1,879.8 185.7,881.3 187.3,882.3 188.9,882.7 190.5,883.1 192.1,884.1 193.7,886.1 195.3,889.0 196.9,892.4 198.5,895.6 200.1,898.3 201.7,900.2 203.3,901.1 204.9,901.4 206.5,901.6 208.1,902.0 209.7,903.0 211.3,904.1 212.9,904.9 214.5,905.3 216.1,905.4 217.7,905.6 219.3,906.5 220.9,908.2 222.5,910.4 224.1,912.5 225.7,914.0 227.3,914.4 228.9,913.7 230.5,912.0 232.1,910.0 233.7,908.2 235.3,907.4 236.9,907.6 238.5,908.1 240.1,908.5 241.7,909.0 243.3,910.1 244.9,911.8 246.5,913.7 248.1,915.6 249.7,917.8 251.3,920.5 252.9,923.5 254.5,926.0 256.1,927.2 257.7,927.0 259.3,926.0 260.9,924.9 262.5,924.3 264.1,924.2 265.7,924.5 267.3,925.0 268.9,924.9 270.5,924.1 272.1,922.7 273.7,921.6 275.3,921.3 276.9,921.7 278.5,922.5 280.1,923.0 281.7,923.2 283.3,923.3 284.9,923.6 286.5,924.2 288.1,925.2 289.7,926.8 291.3,928.5 292.9,930.3 294.5,931.7 296.1,932.4 297.7,932.3 299.3,931.4 300.9,929.7 302.5,928.0 304.1,926.8 305.7,926.5 307.3,927.1 308.9,928.3 310.5,929.2 312.1,929.1 313.7,927.9 315.3,925.8 316.9,923.8 318.5,923.2 320.1,924.4 321.7,927.2 323.3,930.3 324.9,932.8 326.5,934.5 328.1,935.1 329.7,934.5 331.3,932.7 332.9,930.1 334.5,927.9 336.1,926.8 337.7,926.9 339.3,928.0 340.9,929.3 342.5,930.5 344.1,931.4 345.7,931.8 347.3,931.7 348.9,930.9 350.5,929.8 352.1,929.0 353.7,928.8" fill="none" stroke="#33e033" stroke-width="1.3" stroke-linejoin="round" stroke-linecap="round" />
<polyline points="94.5,754.2 96.1,753.9 97.7,754.1 99.3,754.9 100.9,756.0 102.5,756.9 104.1,757.2 105.7,757.0 107.3,756.7 108.9,756.6 110.5,756.6 112.1,756.7 113.7,756.7 115.3,756.4 116.9,755.8 118.5,755.7 120.1,757.7 121.7,760.6 123.3,764.2 124.9,768.4 126.5,771.3 128.1,772.8 129.7,773.9 131.3,775.7 132.9,778.9 134.5,783.4 136.1,788.2 137.7,792.5 139.3,795.8 140.9,798.7 142.5,801.6 144.1,805.0 145.7,808.4 147.3,811.4 148.9,813.7 150.5,815.5 152.1,817.2 153.7,819.3 155.3,822.1 156.9,825.8 158.5,830.1 160.1,834.5 161.7,838.6 163.3,842.1 164.9,845.1 166.5,847.7 168.1,850.2 169.7,852.4 171.3,854.1 172.9,855.0 174.5,855.6 176.1,856.5 177.7,858.3 179.3,860.9 180.9,864.0 182.5,867.1 184.1,869.8 185.7,871.8 187.3,872.8 188.9,873.1 190.5,873.4 192.1,873.9 193.7,874.3 195.3,874.4 196.9,874.4 198.5,874.5 200.1,875.4 201.7,877.0 203.3,879.2 204.9,881.3 206.5,883.1 208.1,884.8 209.7,886.9 211.3,889.0 212.9,890.6 214.5,891.1 216.1,891.0 217.7,890.8 219.3,891.3 220.9,892.7 222.5,894.5 224.1,896.3 225.7,897.9 227.3,899.1 228.9,900.3 230.5,901.7 232.1,903.2 233.7,904.7 235.3,905.8 236.9,906.4 238.5,906.3 240.1,905.7 241.7,905.1 243.3,904.9 244.9,905.7 246.5,907.9 248.1,911.0 249.7,913.9 251.3,915.7 252.9,916.1 254.5,915.5 256.1,914.7 257.7,914.2 259.3,914.3 260.9,915.0 262.5,916.0 264.1,916.9 265.7,917.4 267.3,917.3 268.9,916.8 270.5,916.4 272.1,916.5 273.7,917.5 275.3,919.8 276.9,923.0 278.5,926.3 280.1,928.4 281.7,929.0 283.3,928.2 284.9,926.8 286.5,925.5 288.1,924.8 289.7,924.5 291.3,923.8 292.9,922.4 294.5,920.3 296.1,918.3 297.7,917.4 299.3,918.2 300.9,920.1 302.5,922.2 304.1,923.8 305.7,924.7 307.3,925.1 308.9,924.9 310.5,924.4 312.1,923.9 313.7,923.5 315.3,923.0 316.9,922.5 318.5,922.2 320.1,922.1 321.7,922.2 323.3,922.5 324.9,923.3 326.5,924.5 328.1,926.0 329.7,927.5 331.3,928.8 332.9,929.8 334.5,930.5 336.1,930.9 337.7,931.1 339.3,931.0 340.9,930.2 342.5,928.5 344.1,926.4 345.7,924.8 347.3,924.1 348.9,924.2 350.5,924.6 352.1,925.0 353.7,925.4" fill="none" stroke="#33e033" stroke-width="1.3" stroke-linejoin="round" stroke-linecap="round" />
<polyline points="94.5,755.9 96.1,756.4 97.7,756.9 99.3,757.2 100.9,757.3 102.5,757.2 104.1,757.1 105.7,756.9 107.3,756.5 108.9,756.0 110.5,755.6 112.1,755.3 113.7,755.3 115.3,755.3 116.9,755.4 118.5,757.2 120.1,759.4 121.7,761.5 123.3,761.7 124.9,764.4 126.5,768.2 128.1,773.0 129.7,778.3 131.3,783.2 132.9,787.2 134.5,790.2 136.1,792.7 137.7,794.9 139.3,797.5 140.9,800.6 142.5,804.1 144.1,807.0 145.7,808.6 147.3,808.9 148.9,808.3 150.5,807.5 152.1,807.8 153.7,810.2 155.3,814.6 156.9,819.9 158.5,824.3 160.1,826.8 161.7,827.7 163.3,828.0 164.9,828.9 166.5,830.7 168.1,833.1 169.7,835.9 171.3,838.6 172.9,841.1 174.5,843.1 176.1,844.2 177.7,844.7 179.3,845.6 180.9,847.9 182.5,851.9 184.1,856.4 185.7,860.4 187.3,863.5 188.9,865.8 190.5,867.5 192.1,868.5 193.7,868.9 195.3,868.8 196.9,868.4 198.5,867.8 200.1,867.4 201.7,867.7 203.3,869.1 204.9,871.7 206.5,875.1 208.1,878.5 209.7,881.0 211.3,882.5 212.9,883.4 214.5,884.5 216.1,885.9 217.7,887.1 219.3,887.7 220.9,887.9 222.5,888.5 224.1,890.0 225.7,892.7 227.3,896.0 228.9,899.4 230.5,901.6 232.1,902.0 233.7,900.3 235.3,897.5 236.9,895.2 238.5,894.5 240.1,895.7 241.7,898.2 243.3,901.0 244.9,902.9 246.5,903.7 248.1,903.6 249.7,903.3 251.3,903.1 252.9,902.9 254.5,902.6 256.1,902.5 257.7,903.0 259.3,904.3 260.9,906.2 262.5,907.9 264.1,909.0 265.7,909.7 267.3,910.6 268.9,912.0 270.5,913.3 272.1,914.3 273.7,914.6 275.3,914.8 276.9,915.1 278.5,915.5 280.1,915.8 281.7,915.5 283.3,914.6 284.9,913.3 286.5,912.4 288.1,912.8 289.7,914.6 291.3,917.3 292.9,919.4 294.5,920.2 296.1,919.9 297.7,919.3 299.3,918.9 300.9,919.0 302.5,919.3 304.1,919.5 305.7,919.2 307.3,918.1 308.9,916.5 310.5,914.9 312.1,914.5 313.7,915.6 315.3,917.5 316.9,919.2 318.5,920.0 320.1,920.0 321.7,920.1 323.3,921.0 324.9,922.5 326.5,924.3 328.1,925.6 329.7,926.1 331.3,925.9 332.9,925.5 334.5,925.3 336.1,925.6 337.7,926.4 339.3,927.1 340.9,927.0 342.5,926.2 344.1,925.3 345.7,925.5 347.3,926.9 348.9,928.8 350.5,930.2 352.1,930.3 353.7,929.2" fill="none" stroke="#33e033" stroke-width="1.3" stroke-linejoin="round" stroke-linecap="round" />
<polyline points="94.5,755.2 96.1,755.6 97.7,756.1 99.3,756.3 100.9,756.0 102.5,755.5 104.1,754.7 105.7,753.9 107.3,753.2 108.9,752.8 110.5,752.9 112.1,753.4 113.7,754.0 115.3,754.7 116.9,755.5 118.5,756.9 120.1,759.9 121.7,762.9 123.3,767.8 124.9,770.5 126.5,772.5 128.1,774.0 129.7,774.9 131.3,775.6 132.9,776.2 134.5,777.4 136.1,779.7 137.7,783.2 139.3,787.1 140.9,790.6 142.5,793.0 144.1,794.7 145.7,796.6 147.3,799.0 148.9,801.9 150.5,805.3 152.1,809.1 153.7,813.1 155.3,816.7 156.9,819.1 158.5,820.0 160.1,819.9 161.7,819.8 163.3,820.2 164.9,821.1 166.5,822.4 168.1,824.1 169.7,826.4 171.3,829.2 172.9,832.1 174.5,834.8 176.1,837.1 177.7,838.9 179.3,840.3 180.9,841.5 182.5,842.9 184.1,844.7 185.7,847.5 187.3,850.9 188.9,854.1 190.5,856.5 192.1,857.7 193.7,858.3 195.3,858.9 196.9,859.6 198.5,860.8 200.1,862.5 201.7,864.6 203.3,866.8 204.9,868.9 206.5,870.2 208.1,870.8 209.7,870.9 211.3,871.1 212.9,871.8 214.5,872.7 216.1,873.5 217.7,874.3 219.3,875.5 220.9,877.8 222.5,880.7 224.1,883.8 225.7,886.5 227.3,888.7 228.9,890.2 230.5,890.6 232.1,889.8 233.7,888.2 235.3,886.4 236.9,885.3 238.5,885.2 240.1,885.6 241.7,886.3 243.3,886.8 244.9,887.5 246.5,888.3 248.1,889.3 249.7,890.6 251.3,892.1 252.9,893.6 254.5,895.0 256.1,896.4 257.7,897.5 259.3,898.2 260.9,898.1 262.5,897.1 264.1,895.8 265.7,895.0 267.3,895.9 268.9,898.6 270.5,902.5 272.1,906.2 273.7,908.5 275.3,909.0 276.9,908.1 278.5,906.5 280.1,905.3 281.7,904.9 283.3,905.1 284.9,905.1 286.5,904.6 288.1,904.1 289.7,904.5 291.3,906.3 292.9,908.9 294.5,911.3 296.1,912.7 297.7,913.0 299.3,912.5 300.9,911.6 302.5,910.9 304.1,910.5 305.7,910.6 307.3,911.0 308.9,911.7 310.5,912.7 312.1,914.1 313.7,915.5 315.3,916.1 316.9,915.5 318.5,914.0 320.1,912.6 321.7,912.2 323.3,912.9 324.9,914.4 326.5,916.0 328.1,917.3 329.7,918.0 331.3,918.1 332.9,918.0 334.5,917.7 336.1,917.4 337.7,916.9 339.3,916.1 340.9,915.5 342.5,915.3 344.1,915.4 345.7,915.4 347.3,915.0 348.9,914.4 350.5,913.9 352.1,914.1 353.7,915.2" fill="none" stroke="#33e033" stroke-width="1.3" stroke-linejoin="round" stroke-linecap="round" />
<polyline points="94.5,756.3 96.1,756.8 97.7,757.3 99.3,757.4 100.9,757.0 102.5,756.3 104.1,755.8 105.7,755.3 107.3,754.8 108.9,754.4 110.5,754.2 112.1,754.5 113.7,755.1 115.3,755.9 116.9,756.6 118.5,759.1 120.1,761.4 121.7,763.3 123.3,764.4 124.9,765.4 126.5,766.8 128.1,769.0 129.7,771.8 131.3,774.7 132.9,777.3 134.5,779.6 136.1,782.2 137.7,785.3 139.3,788.6 140.9,791.4 142.5,793.6 144.1,795.4 145.7,797.2 147.3,799.1 148.9,801.5 150.5,804.2 152.1,807.3 153.7,810.7 155.3,814.0 156.9,817.1 158.5,819.6 160.1,820.9 161.7,820.9 163.3,820.1 164.9,819.5 166.5,819.8 168.1,820.9 169.7,822.6 171.3,824.3 172.9,826.1 174.5,828.0 176.1,830.3 177.7,832.8 179.3,835.3 180.9,837.6 182.5,839.4 184.1,841.1 185.7,842.8 187.3,844.2 188.9,845.1 190.5,845.9 192.1,847.2 193.7,849.2 195.3,852.1 196.9,855.3 198.5,858.2 200.1,860.2 201.7,861.2 203.3,861.5 204.9,861.5 206.5,861.4 208.1,861.1 209.7,860.6 211.3,860.2 212.9,860.1 214.5,861.0 216.1,863.1 217.7,865.9 219.3,869.0 220.9,871.3 222.5,872.6 224.1,872.9 225.7,872.9 227.3,873.1 228.9,873.4 230.5,873.9 232.1,874.6 233.7,875.9 235.3,877.9 236.9,880.5 238.5,882.8 240.1,883.7 241.7,883.0 243.3,881.7 244.9,881.1 246.5,881.7 248.1,883.2 249.7,884.8 251.3,886.1 252.9,886.8 254.5,886.9 256.1,886.5 257.7,886.2 259.3,886.5 260.9,887.2 262.5,888.0 264.1,888.8 265.7,890.1 267.3,892.2 268.9,894.6 270.5,896.5 272.1,897.1 273.7,896.4 275.3,895.0 276.9,893.9 278.5,893.5 280.1,893.6 281.7,893.9 283.3,894.4 284.9,895.2 286.5,896.7 288.1,898.7 289.7,901.0 291.3,903.0 292.9,904.6 294.5,905.7 296.1,906.3 297.7,906.5 299.3,906.1 300.9,905.6 302.5,905.7 304.1,906.5 305.7,907.7 307.3,908.6 308.9,909.0 310.5,908.9 312.1,908.7 313.7,908.7 315.3,909.2 316.9,909.8 318.5,910.2 320.1,910.2 321.7,909.8 323.3,909.3 324.9,908.9 326.5,909.2 328.1,910.3 329.7,912.0 331.3,913.6 332.9,914.7 334.5,915.1 336.1,914.7 337.7,913.9 339.3,912.7 340.9,911.5 342.5,911.1 344.1,912.0 345.7,914.1 347.3,916.8 348.9,919.3 350.5,920.9 352.1,921.5 353.7,921.0" fill="none" stroke="#33e033" stroke-width="1.3" stroke-linejoin="round" stroke-linecap="round" />
<polyline points="94.5,931.1 96.1,931.3 97.7,931.7 99.3,931.9 100.9,931.6 102.5,931.2 104.1,930.7 105.7,930.5 107.3,930.4 108.9,930.1 110.5,929.3 112.1,928.2 113.7,927.5 115.3,927.4 116.9,925.8 118.5,921.3 120.1,916.2 121.7,910.9 123.3,905.5 124.9,899.7 126.5,893.4 128.1,886.8 129.7,880.2 131.3,873.9 132.9,868.6 134.5,864.2 136.1,860.7 137.7,857.4 139.3,853.8 140.9,849.6 142.5,845.4 144.1,841.7 145.7,838.5 147.3,835.3 148.9,831.8 150.5,828.2 152.1,825.4 153.7,823.8 155.3,823.1 156.9,823.0 158.5,822.7 160.1,821.5 161.7,818.4 163.3,813.3 164.9,807.4 166.5,802.3 168.1,799.0 169.7,797.6 171.3,797.3 172.9,797.2 174.5,796.4 176.1,795.2 177.7,793.9 179.3,792.5 180.9,790.5 182.5,788.1 184.1,785.9 185.7,784.2 187.3,782.6 188.9,780.9 190.5,779.4 192.1,778.1 193.7,777.1 195.3,776.5 196.9,776.6 198.5,777.3 200.1,778.1 201.7,778.7 203.3,779.1 204.9,779.4 206.5,779.3 208.1,778.3 209.7,776.3 211.3,773.8 212.9,771.5 214.5,769.7 216.1,768.6 217.7,768.2 219.3,768.0 220.9,767.8 222.5,767.4 224.1,766.7 225.7,765.3 227.3,763.5 228.9,762.0 230.5,761.4 232.1,761.6 233.7,762.3 235.3,762.9 236.9,763.2 238.5,763.4 240.1,763.6 241.7,763.7 243.3,763.7 244.9,763.7 246.5,763.7 248.1,763.8 249.7,763.7 251.3,763.5 252.9,763.4 254.5,763.3 256.1,763.3 257.7,762.7 259.3,761.4 260.9,759.8 262.5,758.3 264.1,757.1 265.7,756.0 267.3,755.0 268.9,754.1 270.5,753.8 272.1,754.2 273.7,754.9 275.3,755.6 276.9,756.0 278.5,756.4 280.1,757.4 281.7,758.9 283.3,760.3 284.9,761.0 286.5,760.6 288.1,759.2 289.7,757.6 291.3,756.8 292.9,756.8 294.5,757.3 296.1,757.2 297.7,756.5 299.3,755.8 300.9,755.9 302.5,757.0 304.1,758.4 305.7,759.4 307.3,759.8 308.9,759.7 310.5,759.5 312.1,759.3 313.7,758.9 315.3,758.2 316.9,757.2 318.5,756.1 320.1,755.3 321.7,755.0 323.3,755.0 324.9,755.5 326.5,756.2 328.1,756.8 329.7,757.0 331.3,756.4 332.9,755.3 334.5,754.2 336.1,753.8 337.7,754.5 339.3,756.1 340.9,757.6 342.5,758.5 344.1,758.8 345.7,758.9 347.3,758.9 348.9,758.6 350.5,758.2 352.1,758.0 353.7,757.9" fill="none" stroke="#2020dd" stroke-width="1.3" stroke-linejoin="round" stroke-linecap="round" />
<polyline points="94.5,929.8 96.1,929.8 97.7,930.5 99.3,932.1 100.9,934.2 102.5,935.9 104.1,936.7 105.7,936.5 107.3,935.8 108.9,935.1 110.5,934.9 112.1,935.0 113.7,935.2 115.3,935.2 116.9,934.9 118.5,930.5 120.1,924.0 121.7,916.9 123.3,909.6 124.9,902.7 126.5,896.5 128.1,891.1 129.7,886.0 131.3,880.6 132.9,875.0 134.5,869.6 136.1,865.1 137.7,861.6 139.3,858.8 140.9,856.2 142.5,853.7 144.1,850.8 145.7,847.2 147.3,843.2 148.9,839.5 150.5,836.6 152.1,834.3 153.7,831.9 155.3,829.3 156.9,826.7 158.5,824.0 160.1,821.1 161.7,817.6 163.3,813.9 164.9,810.8 166.5,809.0 168.1,808.4 169.7,808.1 171.3,807.4 172.9,805.9 174.5,804.0 176.1,801.9 177.7,799.5 179.3,796.8 180.9,794.4 182.5,792.9 184.1,792.5 185.7,792.6 187.3,792.3 188.9,791.2 190.5,789.6 192.1,788.0 193.7,786.5 195.3,785.3 196.9,784.2 198.5,782.9 200.1,781.7 201.7,780.7 203.3,779.9 204.9,779.1 206.5,778.3 208.1,777.4 209.7,776.5 211.3,775.6 212.9,774.6 214.5,773.5 216.1,772.2 217.7,770.6 219.3,768.8 220.9,767.2 222.5,765.9 224.1,765.0 225.7,764.8 227.3,765.2 228.9,765.8 230.5,766.1 232.1,765.6 233.7,764.5 235.3,763.6 236.9,763.2 238.5,763.2 240.1,763.0 241.7,762.3 243.3,761.2 244.9,760.4 246.5,760.4 248.1,760.9 249.7,761.5 251.3,761.9 252.9,762.2 254.5,762.5 256.1,762.9 257.7,762.7 259.3,761.2 260.9,758.8 262.5,756.7 264.1,756.6 265.7,758.3 267.3,760.7 268.9,762.3 270.5,762.4 272.1,761.6 273.7,760.7 275.3,760.3 276.9,760.6 278.5,761.1 280.1,761.3 281.7,760.9 283.3,760.2 284.9,759.4 286.5,758.8 288.1,758.7 289.7,759.0 291.3,760.0 292.9,761.3 294.5,761.8 296.1,761.0 297.7,759.1 299.3,757.5 300.9,757.2 302.5,757.7 304.1,758.4 305.7,758.9 307.3,759.4 308.9,760.0 310.5,760.0 312.1,759.2 313.7,757.5 315.3,755.8 316.9,754.6 318.5,754.4 320.1,755.0 321.7,756.3 323.3,757.8 324.9,758.7 326.5,758.6 328.1,757.9 329.7,757.1 331.3,756.6 332.9,756.3 334.5,756.0 336.1,755.7 337.7,755.6 339.3,756.0 340.9,757.1 342.5,758.8 344.1,760.3 345.7,761.2 347.3,761.0 348.9,760.0 350.5,758.7 352.1,757.6 353.7,757.0" fill="none" stroke="#2020dd" stroke-width="1.3" stroke-linejoin="round" stroke-linecap="round" />
<polyline points="94.5,934.0 96.1,934.9 97.7,935.8 99.3,936.8 100.9,937.6 102.5,937.5 104.1,935.8 105.7,933.2 107.3,930.9 108.9,930.1 110.5,930.8 112.1,932.8 113.7,935.2 115.3,936.9 116.9,937.3 118.5,935.5 120.1,929.5 121.7,922.7 123.3,915.9 124.9,909.4 126.5,903.1 128.1,897.4 129.7,892.2 131.3,887.5 132.9,882.8 134.5,877.7 136.1,872.4 137.7,867.5 139.3,863.5 140.9,860.2 142.5,856.9 144.1,853.3 145.7,849.3 147.3,845.4 148.9,841.8 150.5,838.5 152.1,835.6 153.7,832.9 155.3,830.4 156.9,828.1 158.5,825.9 160.1,823.8 161.7,821.6 163.3,818.7 164.9,815.4 166.5,812.2 168.1,809.8 169.7,808.2 171.3,806.8 172.9,805.3 174.5,804.0 176.1,803.0 177.7,802.1 179.3,801.1 180.9,799.8 182.5,798.4 184.1,797.0 185.7,795.2 187.3,792.7 188.9,789.9 190.5,787.6 192.1,786.0 193.7,785.2 195.3,784.5 196.9,783.0 198.5,780.3 200.1,777.6 201.7,776.1 203.3,776.4 204.9,778.1 206.5,780.0 208.1,780.5 209.7,779.2 211.3,776.9 212.9,774.8 214.5,773.2 216.1,772.1 217.7,771.2 219.3,770.7 220.9,770.6 222.5,771.0 224.1,771.7 225.7,772.3 227.3,772.1 228.9,770.9 230.5,769.1 232.1,767.3 233.7,766.0 235.3,765.1 236.9,764.3 238.5,763.5 240.1,763.2 241.7,763.4 243.3,764.1 244.9,765.2 246.5,766.2 248.1,766.7 249.7,766.0 251.3,764.3 252.9,762.5 254.5,761.7 256.1,762.1 257.7,763.4 259.3,764.6 260.9,765.4 262.5,765.9 264.1,766.0 265.7,765.8 267.3,765.4 268.9,764.5 270.5,763.2 272.1,761.3 273.7,759.3 275.3,757.8 276.9,757.2 278.5,757.9 280.1,759.6 281.7,761.6 283.3,763.3 284.9,764.1 286.5,764.1 288.1,763.7 289.7,762.9 291.3,762.0 292.9,761.3 294.5,760.6 296.1,759.7 297.7,758.7 299.3,758.5 300.9,759.1 302.5,760.3 304.1,761.1 305.7,761.1 307.3,760.5 308.9,759.4 310.5,758.3 312.1,757.4 313.7,756.9 315.3,756.7 316.9,757.3 318.5,758.7 320.1,760.7 321.7,762.2 323.3,762.6 324.9,762.0 326.5,760.7 328.1,759.1 329.7,757.7 331.3,757.3 332.9,758.1 334.5,759.1 336.1,759.4 337.7,758.6 339.3,757.5 340.9,756.7 342.5,756.2 344.1,755.8 345.7,755.8 347.3,756.3 348.9,756.7 350.5,756.5 352.1,755.9 353.7,755.5" fill="none" stroke="#2020dd" stroke-width="1.3" stroke-linejoin="round" stroke-linecap="round" />
<polyline points="94.5,929.1 96.1,929.6 97.7,930.9 99.3,932.4 100.9,933.5 102.5,934.2 104.1,934.9 105.7,935.4 107.3,935.7 108.9,935.4 110.5,934.7 112.1,934.3 113.7,934.8 115.3,936.2 116.9,937.2 118.5,937.0 120.1,933.0 121.7,926.1 123.3,918.9 124.9,912.1 126.5,905.8 128.1,899.5 129.7,893.4 131.3,887.5 132.9,882.0 134.5,877.2 136.1,873.2 137.7,870.2 139.3,867.6 140.9,864.7 142.5,860.9 144.1,856.3 145.7,851.9 147.3,848.4 148.9,845.9 150.5,843.8 152.1,841.1 153.7,837.4 155.3,832.8 156.9,828.0 158.5,823.6 160.1,819.9 161.7,817.0 163.3,814.9 164.9,813.2 166.5,812.0 168.1,811.1 169.7,810.1 171.3,809.1 172.9,808.0 174.5,806.9 176.1,805.8 177.7,804.6 179.3,803.3 180.9,802.0 182.5,800.7 184.1,799.3 185.7,797.6 187.3,795.4 188.9,792.8 190.5,790.3 192.1,788.6 193.7,788.3 195.3,789.1 196.9,790.0 198.5,790.0 200.1,788.8 201.7,786.9 203.3,784.5 204.9,782.3 206.5,780.1 208.1,778.3 209.7,776.9 211.3,776.3 212.9,776.3 214.5,776.5 216.1,776.7 217.7,776.5 219.3,775.9 220.9,775.2 222.5,774.7 224.1,774.6 225.7,774.4 227.3,773.6 228.9,771.5 230.5,768.3 232.1,765.0 233.7,763.0 235.3,762.9 236.9,764.2 238.5,765.5 240.1,765.8 241.7,765.1 243.3,764.1 244.9,763.4 246.5,763.0 248.1,762.9 249.7,763.6 251.3,764.8 252.9,766.0 254.5,766.4 256.1,765.7 257.7,764.2 259.3,762.4 260.9,761.2 262.5,761.1 264.1,761.5 265.7,761.4 267.3,760.4 268.9,758.7 270.5,757.2 272.1,756.3 273.7,755.9 275.3,755.9 276.9,755.8 278.5,755.7 280.1,755.8 281.7,756.6 283.3,758.0 284.9,759.6 286.5,760.7 288.1,760.9 289.7,760.3 291.3,759.6 292.9,759.1 294.5,759.2 296.1,759.8 297.7,760.3 299.3,760.3 300.9,760.0 302.5,760.3 304.1,761.5 305.7,763.2 307.3,764.3 308.9,764.4 310.5,764.0 312.1,763.8 313.7,764.0 315.3,764.2 316.9,763.9 318.5,763.1 320.1,761.6 321.7,759.8 323.3,758.0 324.9,756.2 326.5,754.7 328.1,753.5 329.7,752.8 331.3,752.8 332.9,753.4 334.5,754.2 336.1,754.3 337.7,753.8 339.3,753.3 340.9,753.5 342.5,754.3 344.1,755.4 345.7,756.4 347.3,757.3 348.9,757.8 350.5,757.5 352.1,756.8 353.7,756.2" fill="none" stroke="#2020dd" stroke-width="1.3" stroke-linejoin="round" stroke-linecap="round" />
<polyline points="94.5,932.6 96.1,933.0 97.7,933.5 99.3,933.8 100.9,933.9 102.5,933.6 104.1,933.0 105.7,932.1 107.3,930.8 108.9,929.3 110.5,927.9 112.1,927.3 113.7,927.6 115.3,928.7 116.9,929.9 118.5,930.5 120.1,930.4 121.7,926.1 123.3,920.6 124.9,914.8 126.5,909.1 128.1,903.5 129.7,898.2 131.3,893.5 132.9,889.6 134.5,885.8 136.1,881.5 137.7,876.4 139.3,871.7 140.9,868.2 142.5,865.9 144.1,863.5 145.7,860.4 147.3,856.7 148.9,852.9 150.5,849.5 152.1,846.6 153.7,844.0 155.3,841.2 156.9,838.2 158.5,835.2 160.1,832.6 161.7,830.2 163.3,827.6 164.9,824.5 166.5,821.2 168.1,818.2 169.7,816.1 171.3,814.5 172.9,813.1 174.5,811.8 176.1,810.7 177.7,809.7 179.3,808.1 180.9,805.4 182.5,802.2 184.1,799.7 185.7,798.7 187.3,799.2 188.9,800.0 190.5,800.5 192.1,800.2 193.7,799.1 195.3,797.3 196.9,795.0 198.5,792.5 200.1,790.1 201.7,787.7 203.3,785.4 204.9,783.8 206.5,783.3 208.1,783.9 209.7,784.6 211.3,784.6 212.9,783.7 214.5,782.3 216.1,780.8 217.7,779.2 219.3,777.7 220.9,776.6 222.5,776.2 224.1,776.1 225.7,775.8 227.3,774.9 228.9,773.7 230.5,773.0 232.1,773.4 233.7,774.1 235.3,774.3 236.9,773.2 238.5,771.4 240.1,769.5 241.7,767.9 243.3,766.5 244.9,765.3 246.5,764.3 248.1,763.8 249.7,763.7 251.3,764.5 252.9,765.7 254.5,766.9 256.1,767.2 257.7,766.0 259.3,764.1 260.9,762.6 262.5,762.4 264.1,762.8 265.7,763.3 267.3,763.8 268.9,764.4 270.5,765.3 272.1,765.7 273.7,764.8 275.3,762.9 276.9,761.0 278.5,760.0 280.1,760.4 281.7,761.6 283.3,763.1 284.9,763.9 286.5,763.8 288.1,763.0 289.7,762.6 291.3,762.8 292.9,763.6 294.5,764.3 296.1,764.6 297.7,764.4 299.3,763.8 300.9,762.7 302.5,761.1 304.1,759.2 305.7,757.8 307.3,757.3 308.9,757.4 310.5,757.1 312.1,756.3 313.7,755.2 315.3,754.3 316.9,753.9 318.5,753.9 320.1,754.2 321.7,754.8 323.3,755.7 324.9,756.3 326.5,756.3 328.1,756.0 329.7,755.9 331.3,756.6 332.9,757.7 334.5,758.6 336.1,758.8 337.7,758.4 339.3,757.9 340.9,757.6 342.5,757.7 344.1,757.4 345.7,756.8 347.3,756.2 348.9,756.4 350.5,757.5 352.1,758.5 353.7,758.9" fill="none" stroke="#2020dd" stroke-width="1.3" stroke-linejoin="round" stroke-linecap="round" />
<polyline points="94.5,934.1 96.1,934.2 97.7,933.9 99.3,933.3 100.9,932.3 102.5,931.0 104.1,929.7 105.7,928.4 107.3,927.3 108.9,926.5 110.5,926.4 112.1,927.1 113.7,928.5 115.3,929.8 116.9,930.8 118.5,930.3 120.1,926.2 121.7,920.5 123.3,914.3 124.9,907.8 126.5,901.6 128.1,896.0 129.7,891.2 131.3,887.6 132.9,885.1 134.5,883.3 136.1,881.8 137.7,880.1 139.3,877.8 140.9,874.5 142.5,869.9 144.1,864.2 145.7,858.0 147.3,851.9 148.9,847.0 150.5,843.5 152.1,841.1 153.7,839.2 155.3,837.4 156.9,836.0 158.5,834.7 160.1,833.0 161.7,830.7 163.3,827.9 164.9,825.2 166.5,822.9 168.1,820.8 169.7,818.7 171.3,816.4 172.9,814.2 174.5,812.1 176.1,810.2 177.7,808.4 179.3,806.5 180.9,804.8 182.5,803.7 184.1,803.6 185.7,804.0 187.3,804.2 188.9,803.7 190.5,802.0 192.1,799.5 193.7,796.6 195.3,793.9 196.9,791.7 198.5,790.2 200.1,789.1 201.7,788.0 203.3,786.4 204.9,784.6 206.5,782.9 208.1,781.3 209.7,779.9 211.3,778.8 212.9,778.3 214.5,778.6 216.1,779.5 217.7,780.3 219.3,780.6 220.9,780.0 222.5,778.9 224.1,777.9 225.7,777.2 227.3,776.5 228.9,775.8 230.5,774.9 232.1,774.2 233.7,773.5 235.3,772.6 236.9,771.2 238.5,769.7 240.1,768.4 241.7,767.8 243.3,767.8 244.9,768.2 246.5,768.4 248.1,768.2 249.7,767.8 251.3,767.1 252.9,766.5 254.5,765.9 256.1,765.2 257.7,764.3 259.3,763.0 260.9,761.6 262.5,760.6 264.1,760.5 265.7,760.8 267.3,760.8 268.9,760.4 270.5,760.5 272.1,761.8 273.7,763.8 275.3,765.3 276.9,765.6 278.5,765.0 280.1,764.1 281.7,763.4 283.3,763.1 284.9,763.1 286.5,763.1 288.1,762.4 289.7,760.9 291.3,758.9 292.9,757.1 294.5,755.9 296.1,755.7 297.7,756.7 299.3,758.3 300.9,759.8 302.5,760.5 304.1,760.2 305.7,759.4 307.3,758.4 308.9,757.6 310.5,757.2 312.1,757.2 313.7,757.7 315.3,758.7 316.9,760.0 318.5,761.3 320.1,762.1 321.7,761.8 323.3,760.6 324.9,758.8 326.5,757.3 328.1,756.7 329.7,756.8 331.3,757.4 332.9,758.0 334.5,758.5 336.1,759.1 337.7,759.8 339.3,760.5 340.9,760.9 342.5,760.7 344.1,760.2 345.7,759.7 347.3,759.6 348.9,759.8 350.5,759.9 352.1,759.8 353.7,759.4" fill="none" stroke="#2020dd" stroke-width="1.3" stroke-linejoin="round" stroke-linecap="round" />
<rect x="78.2" y="755.2" width="2.2" height="177.6" fill="#000"/>
<rect x="71" y="755.2" width="9" height="2" fill="#000"/>
<rect x="71" y="930.9" width="9" height="2" fill="#000"/>
<text x="48.70" y="760.00" font-size="13.8" >1.0</text>
<text x="48.75" y="937.10" font-size="13.8" >0.0</text>
<rect x="91.3" y="938" width="56.7" height="2.2" fill="#000"/>
<text x="103.74" y="952.80" font-size="14.1" >0.5 s</text>
<text transform="translate(43.6,916.5) rotate(-90)" font-size="16.4">(F/F<tspan font-size="12.7" dy="6">0</tspan><tspan dy="-6">)</tspan><tspan font-size="12.2" dy="5.2">normalized</tspan><tspan dy="-5.2"> [a.u.]</tspan></text>
<text x="237.49" y="791.00" font-size="13.05" font-weight="bold" fill="#1e50d2" >plasma membrane</text>
<text x="308.99" y="906.00" font-size="12.8" font-weight="bold" fill="#28dc28" >cytosol</text>
<text x="6.25" y="728.40" font-size="42.5" font-weight="bold" font-style="italic" >D</text>
<text x="21.94" y="747.30" font-size="26" font-weight="bold" font-style="italic" >a</text>
<text x="396.95" y="747.20" font-size="27.7" font-weight="bold" font-style="italic" >b</text>
<rect x="460" y="764" width="2.1" height="170.4" fill="#000"/>
<rect x="455" y="764.1" width="7" height="2" fill="#000"/>
<text x="452.9" y="769.1" font-size="14" text-anchor="end">1.0</text>
<rect x="455" y="797.4" width="7" height="2" fill="#000"/>
<rect x="455" y="831.4" width="7" height="2" fill="#000"/>
<text x="452.9" y="836.4" font-size="14" text-anchor="end">0.6</text>
<rect x="455" y="864.9" width="7" height="2" fill="#000"/>
<rect x="455" y="898.6" width="7" height="2" fill="#000"/>
<text x="452.9" y="903.6" font-size="14" text-anchor="end">0.2</text>
<rect x="455" y="932.9" width="7" height="2" fill="#000"/>
<text x="452.9" y="937.9" font-size="14" text-anchor="end">0.0</text>
<text transform="translate(420.1,918.8) rotate(-90)" font-size="16.3">time constant (&#964;) [s]</text>
<rect x="474" y="861.8" width="71" height="2" fill="#000"/>
<rect x="491.3" y="848" width="36.7" height="2" fill="#000"/>
<rect x="491.3" y="876.2" width="36.7" height="2" fill="#000"/>
<rect x="508.6" y="849" width="2" height="28" fill="#000"/>
<rect x="559.2" y="826.2" width="70.8" height="2" fill="#000"/>
<rect x="576.7" y="789.5" width="35.8" height="2" fill="#000"/>
<rect x="576.7" y="862.9" width="35.8" height="2" fill="#000"/>
<rect x="593.2" y="790.5" width="2" height="73.4" fill="#000"/>
<circle cx="509.6" cy="836.4" r="3.3" fill="#1010e0"/>
<circle cx="509.6" cy="858.8" r="3.3" fill="#1010e0"/>
<circle cx="494.5" cy="871.4" r="3.3" fill="#1010e0"/>
<circle cx="504.6" cy="872.7" r="3.3" fill="#1010e0"/>
<circle cx="514.2" cy="872.7" r="3.3" fill="#1010e0"/>
<circle cx="524.8" cy="866.4" r="3.3" fill="#1010e0"/>
<rect x="591.0" y="779.0" width="6.4" height="6.4" fill="#30e030"/>
<rect x="591.0" y="798.2" width="6.4" height="6.4" fill="#30e030"/>
<rect x="591.0" y="811.3" width="6.4" height="6.4" fill="#30e030"/>
<rect x="591.0" y="831.0" width="6.4" height="6.4" fill="#30e030"/>
<rect x="591.0" y="844.5" width="6.4" height="6.4" fill="#30e030"/>
<rect x="591.0" y="882.5" width="6.4" height="6.4" fill="#30e030"/>
<text x="509.3" y="927.6" font-size="13" font-weight="bold" fill="#1e50d2" text-anchor="middle">plasma</text>
<text x="509.3" y="942.7" font-size="13.2" font-weight="bold" fill="#1e50d2" text-anchor="middle">membrane</text>
<text x="595.2" y="942.6" font-size="12.3" font-weight="bold" fill="#28dc28" text-anchor="middle">cytosol</text></svg></body></html>
